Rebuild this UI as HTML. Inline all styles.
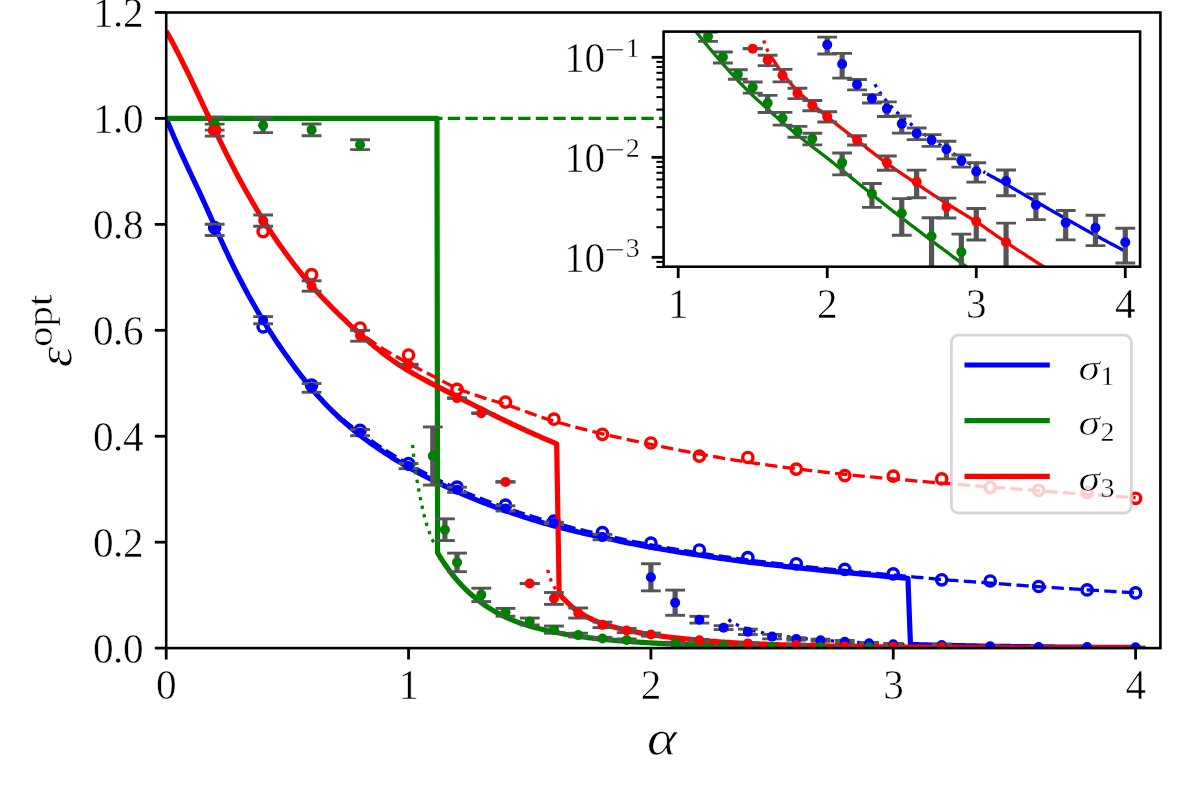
<!DOCTYPE html>
<html lang="en">
<head>
<meta charset="utf-8">
<title>Optimal generalization error</title>
<style>
html,body{margin:0;padding:0;background:#fff;}
svg{display:block;}
</style>
</head>
<body>
<svg width="1196" height="800" viewBox="0 0 1196 800">
<rect x="0" y="0" width="1196" height="800" fill="#fff"/>
<defs><clipPath id="cm"><rect x="166.2" y="12.5" width="994.20" height="635.60"/></clipPath><clipPath id="ci"><rect x="663.6" y="31.6" width="476.50" height="235.10"/></clipPath></defs>
<g clip-path="url(#cm)">
<path d="M166.20,118.40 L168.62,124.33 L171.05,130.11 L173.47,135.77 L175.89,141.31 L178.32,146.75 L180.74,152.11 L183.16,157.40 L185.59,162.63 L188.01,167.82 L190.44,172.99 L192.86,178.14 L195.28,183.30 L197.71,188.48 L200.13,193.70 L202.55,198.96 L204.98,204.29 L207.40,209.66 L209.82,215.07 L212.25,220.50 L214.67,225.93 L217.09,231.34 L219.52,236.72 L221.94,242.05 L224.36,247.32 L226.79,252.50 L229.21,257.59 L231.63,262.60 L234.06,267.53 L236.48,272.37 L238.90,277.13 L241.33,281.82 L243.75,286.42 L246.18,290.95 L248.60,295.41 L251.02,299.78 L253.45,304.09 L255.87,308.32 L258.29,312.47 L260.72,316.56 L263.14,320.57 L265.56,324.51 L267.99,328.39 L270.41,332.19 L272.83,335.93 L275.26,339.60 L277.68,343.21 L280.10,346.75 L282.53,350.23 L284.95,353.65 L287.38,357.00 L289.80,360.42 L292.22,363.79 L294.65,367.09 L297.07,370.34 L299.49,373.53 L301.92,376.66 L304.34,379.73 L306.76,382.76 L309.19,385.72 L311.61,388.64 L314.03,391.44 L316.46,394.20 L318.88,396.91 L321.30,399.57 L323.73,402.17 L326.15,404.73 L328.57,407.25 L331.00,409.71 L333.42,412.14 L335.85,414.51 L338.27,416.77 L340.69,418.98 L343.12,421.15 L345.54,423.28 L347.96,425.37 L350.39,427.43 L352.81,429.44 L355.23,431.41 L357.66,433.35 L360.08,435.26 L362.50,437.13 L364.93,438.97 L367.35,440.77 L369.77,442.54 L372.20,444.28 L374.62,445.99 L377.04,447.67 L379.47,449.33 L381.89,450.95 L384.31,452.55 L386.74,454.13 L389.16,455.67 L391.59,457.20 L394.01,458.70 L396.43,460.18 L398.86,461.64 L401.28,463.08 L403.70,464.50 L406.13,465.90 L408.55,467.28 L410.97,468.65 L413.40,470.00 L415.82,471.33 L418.24,472.65 L420.67,473.95 L423.09,475.23 L425.51,476.50 L427.94,477.76 L430.36,479.00 L432.79,480.22 L435.21,481.43 L437.63,482.62 L440.06,483.80 L442.48,484.96 L444.90,486.11 L447.33,487.25 L449.75,488.37 L452.17,489.48 L454.60,490.58 L457.02,491.66 L459.44,492.72 L461.87,493.78 L464.29,494.82 L466.71,495.85 L469.14,496.87 L471.56,497.87 L473.98,498.87 L476.41,499.85 L478.83,500.82 L481.25,501.77 L483.68,502.72 L486.10,503.65 L488.53,504.58 L490.95,505.49 L493.37,506.39 L495.80,507.28 L498.22,508.16 L500.64,509.03 L503.07,509.89 L505.49,510.74 L507.91,511.58 L510.34,512.41 L512.76,513.23 L515.18,514.05 L517.61,514.85 L520.03,515.65 L522.45,516.43 L524.88,517.21 L527.30,517.98 L529.72,518.74 L532.15,519.49 L534.57,520.24 L537.00,520.98 L539.42,521.71 L541.84,522.43 L544.27,523.15 L546.69,523.85 L549.11,524.56 L551.54,525.25 L553.96,525.94 L556.38,526.57 L558.81,527.20 L561.23,527.82 L563.65,528.43 L566.08,529.03 L568.50,529.63 L570.92,530.23 L573.35,530.82 L575.77,531.40 L578.19,531.97 L580.62,532.54 L583.04,533.11 L585.47,533.67 L587.89,534.22 L590.31,534.77 L592.74,535.31 L595.16,535.85 L597.58,536.38 L600.01,536.90 L602.43,537.42 L604.85,537.96 L607.28,538.50 L609.70,539.03 L612.12,539.55 L614.55,540.07 L616.97,540.58 L619.39,541.09 L621.82,541.60 L624.24,542.09 L626.66,542.59 L629.09,543.08 L631.51,543.56 L633.94,544.04 L636.36,544.51 L638.78,544.98 L641.21,545.44 L643.63,545.90 L646.05,546.35 L648.48,546.80 L650.90,547.24 L653.32,547.68 L655.75,548.11 L658.17,548.54 L660.59,548.97 L663.02,549.39 L665.44,549.80 L667.86,550.21 L670.29,550.62 L672.71,551.02 L675.13,551.42 L677.56,551.81 L679.98,552.20 L682.41,552.58 L684.83,552.96 L687.25,553.34 L689.68,553.71 L692.10,554.08 L694.52,554.44 L696.95,554.80 L699.37,555.15 L701.79,555.53 L704.22,555.90 L706.64,556.27 L709.06,556.64 L711.49,557.00 L713.91,557.36 L716.33,557.71 L718.76,558.06 L721.18,558.41 L723.61,558.75 L726.03,559.09 L728.45,559.43 L730.88,559.76 L733.30,560.09 L735.72,560.41 L738.15,560.74 L740.57,561.06 L742.99,561.37 L745.42,561.68 L747.84,561.99 L750.26,562.30 L752.69,562.61 L755.11,562.91 L757.53,563.21 L759.96,563.50 L762.38,563.79 L764.80,564.08 L767.23,564.37 L769.65,564.66 L772.08,564.94 L774.50,565.22 L776.92,565.50 L779.35,565.77 L781.77,566.04 L784.19,566.31 L786.62,566.58 L789.04,566.85 L791.46,567.11 L793.89,567.37 L796.31,567.63 L798.73,567.89 L801.16,568.15 L803.58,568.40 L806.00,568.65 L808.43,568.91 L810.85,569.15 L813.27,569.40 L815.70,569.65 L818.12,569.89 L820.55,570.13 L822.97,570.38 L825.39,570.62 L827.82,570.85 L830.24,571.09 L832.66,571.33 L835.09,571.56 L837.51,571.80 L839.93,572.03 L842.36,572.26 L844.78,572.49 L847.20,572.72 L849.63,572.95 L852.05,573.18 L854.47,573.41 L856.90,573.63 L859.32,573.86 L861.74,574.08 L864.17,574.31 L866.59,574.53 L869.01,574.76 L871.44,574.98 L873.86,575.21 L876.29,575.43 L878.71,575.65 L881.13,575.87 L883.56,576.10 L885.98,576.32 L888.40,576.54 L890.83,576.76 L893.25,576.99 L895.67,577.21 L898.10,577.43 L900.52,577.66 L902.94,577.88 L905.37,578.10 L907.79,578.33 L907.94,578.34 L910.46,644.48 L912.88,644.54 L915.30,644.61 L917.73,644.67 L920.15,644.73 L922.57,644.80 L925.00,644.86 L927.42,644.92 L929.84,644.98 L932.27,645.04 L934.69,645.09 L937.12,645.15 L939.54,645.21 L941.72,645.26 L941.96,645.26 L944.39,645.32 L946.81,645.37 L949.23,645.42 L951.66,645.47 L954.08,645.52 L956.50,645.57 L958.93,645.62 L961.35,645.67 L963.77,645.72 L966.20,645.77 L968.62,645.81 L971.04,645.86 L973.47,645.90 L975.89,645.95 L978.31,645.99 L980.74,646.03 L983.16,646.07 L985.59,646.11 L988.01,646.15 L990.19,646.19 L990.43,646.19 L992.86,646.23 L995.28,646.26 L997.70,646.30 L1000.13,646.33 L1002.55,646.37 L1004.97,646.40 L1007.40,646.44 L1009.82,646.47 L1012.24,646.50 L1014.67,646.53 L1017.09,646.56 L1019.51,646.59 L1021.94,646.62 L1024.36,646.65 L1026.78,646.68 L1029.21,646.71 L1031.63,646.73 L1034.06,646.76 L1036.48,646.79 L1038.66,646.81 L1038.90,646.81 L1041.33,646.84 L1043.75,646.86 L1046.17,646.88 L1048.60,646.91 L1051.02,646.93 L1053.44,646.95 L1055.87,646.98 L1058.29,647.00 L1060.71,647.02 L1063.14,647.04 L1065.56,647.06 L1067.98,647.08 L1070.41,647.10 L1072.83,647.12 L1075.25,647.14 L1077.68,647.15 L1080.10,647.17 L1082.53,647.19 L1084.95,647.21 L1087.13,647.22 L1087.37,647.22 L1089.80,647.24 L1092.22,647.25 L1094.64,647.27 L1097.07,647.29 L1099.49,647.30 L1101.91,647.32 L1104.34,647.33 L1106.76,647.34 L1109.18,647.36 L1111.61,647.37 L1114.03,647.38 L1116.45,647.40 L1118.88,647.41 L1121.30,647.42 L1123.72,647.43 L1126.15,647.45 L1128.57,647.46 L1131.00,647.47 L1133.42,647.48 L1135.60,647.49" fill="none" stroke="#0000ff" stroke-width="5.2" stroke-linejoin="round" stroke-linecap="butt"/>
<path d="M166.20,118.40 L168.62,124.33 L171.05,130.11 L173.47,135.77 L175.89,141.31 L178.32,146.75 L180.74,152.11 L183.16,157.40 L185.59,162.63 L188.01,167.82 L190.44,172.99 L192.86,178.14 L195.28,183.30 L197.71,188.48 L200.13,193.70 L202.55,198.96 L204.98,204.29 L207.40,209.66 L209.82,215.07 L212.25,220.50 L214.67,225.93 L217.09,231.34 L219.52,236.72 L221.94,242.05 L224.36,247.32 L226.79,252.50 L229.21,257.59 L231.63,262.60 L234.06,267.53 L236.48,272.37 L238.90,277.13 L241.33,281.82 L243.75,286.42 L246.18,290.95 L248.60,295.41 L251.02,299.78 L253.45,304.09 L255.87,308.32 L258.29,312.47 L260.72,316.56 L263.14,320.57 L265.56,324.51 L267.99,328.39 L270.41,332.19 L272.83,335.93 L275.26,339.60 L277.68,343.21 L280.10,346.75 L282.53,350.23 L284.95,353.65 L287.38,357.00 L289.80,360.42 L292.22,363.79 L294.65,367.09 L297.07,370.34 L299.49,373.53 L301.92,376.66 L304.34,379.73 L306.76,382.76 L309.19,385.72 L311.61,388.64 L314.03,391.32 L316.46,393.95 L318.88,396.53 L321.30,399.06 L323.73,401.54 L326.15,403.97 L328.57,406.36 L331.00,408.70 L333.42,410.99 L335.85,413.24 L338.27,415.37 L340.69,417.46 L343.12,419.50 L345.54,421.50 L347.96,423.47 L350.39,425.39 L352.81,427.28 L355.23,429.13 L357.66,430.94 L360.08,432.72 L362.50,434.46 L364.93,436.17 L367.35,437.85 L369.77,439.49 L372.20,441.10 L374.62,442.81 L377.04,444.50 L379.47,446.15 L381.89,447.77 L384.31,449.37 L386.74,450.95 L389.16,452.50 L391.59,454.02 L394.01,455.52 L396.43,457.00 L398.86,458.46 L401.28,459.90 L403.70,461.32 L406.13,462.72 L408.55,464.10 L410.97,465.47 L413.40,466.82 L415.82,468.15 L418.24,469.47 L420.67,470.77 L423.09,472.06 L425.51,473.32 L427.94,474.58 L430.36,475.82 L432.79,477.04 L435.21,478.25 L437.63,479.44 L440.06,480.62 L442.48,481.79 L444.90,482.94 L447.33,484.07 L449.75,485.19 L452.17,486.30 L454.60,487.40 L457.02,488.48 L459.44,489.55 L461.87,490.60 L464.29,491.64 L466.71,492.67 L469.14,493.69 L471.56,494.70 L473.98,495.69 L476.41,496.67 L478.83,497.64 L481.25,498.59 L483.68,499.54 L486.10,500.47 L488.53,501.40 L490.95,502.31 L493.37,503.21 L495.80,504.10 L498.22,504.98 L500.64,505.85 L503.07,506.71 L505.49,507.56 L507.91,508.40 L510.34,509.23 L512.76,510.06 L515.18,510.87 L517.61,511.67 L520.03,512.47 L522.45,513.25 L524.88,514.03 L527.30,514.80 L529.72,515.56 L532.15,516.31 L534.57,517.06 L537.00,517.80 L539.42,518.53 L541.84,519.25 L544.27,519.97 L546.69,520.68 L549.11,521.38 L551.54,522.07 L553.96,522.76 L556.38,523.41 L558.81,524.06 L561.23,524.70 L563.65,525.33 L566.08,525.95 L568.50,526.57 L570.92,527.19 L573.35,527.80 L575.77,528.40 L578.19,528.99 L580.62,529.58 L583.04,530.17 L585.47,530.75 L587.89,531.32 L590.31,531.89 L592.74,532.45 L595.16,533.01 L597.58,533.56 L600.01,534.10 L602.43,534.64 L604.85,535.20 L607.28,535.76 L609.70,536.31 L612.12,536.85 L614.55,537.39 L616.97,537.92 L619.39,538.45 L621.82,538.97 L624.24,539.49 L626.66,540.01 L629.09,540.51 L631.51,541.02 L633.94,541.51 L636.36,542.01 L638.78,542.49 L641.21,542.98 L643.63,543.45 L646.05,543.93 L648.48,544.39 L650.90,544.86 L653.32,545.30 L655.75,545.74 L658.17,546.18 L660.59,546.61 L663.02,547.04 L665.44,547.46 L667.86,547.87 L670.29,548.29 L672.71,548.70 L675.13,549.10 L677.56,549.50 L679.98,549.89 L682.41,550.28 L684.83,550.67 L687.25,551.05 L689.68,551.43 L692.10,551.80 L694.52,552.17 L696.95,552.54 L699.37,552.90 L701.79,553.28 L704.22,553.66 L706.64,554.04 L709.06,554.41 L711.49,554.78 L713.91,555.14 L716.33,555.51 L718.76,555.86 L721.18,556.22 L723.61,556.56 L726.03,556.91 L728.45,557.25 L730.88,557.59 L733.30,557.93 L735.72,558.26 L738.15,558.59 L740.57,558.92 L742.99,559.24 L745.42,559.56 L747.84,559.88 L750.26,560.19 L752.69,560.49 L755.11,560.80 L757.53,561.10 L759.96,561.40 L762.38,561.69 L764.80,561.98 L767.23,562.27 L769.65,562.56 L772.08,562.85 L774.50,563.13 L776.92,563.41 L779.35,563.69 L781.77,563.96 L784.19,564.23 L786.62,564.51 L789.04,564.77 L791.46,565.04 L793.89,565.31 L796.31,565.57 L798.73,565.83 L801.16,566.09 L803.58,566.34 L806.00,566.60 L808.43,566.85 L810.85,567.10 L813.27,567.35 L815.70,567.60 L818.12,567.85 L820.55,568.10 L822.97,568.34 L825.39,568.58 L827.82,568.82 L830.24,569.06 L832.66,569.30 L835.09,569.54 L837.51,569.78 L839.93,570.01 L842.36,570.25 L844.78,570.48 L847.20,570.71 L849.63,570.94 L852.05,571.17 L854.47,571.40 L856.90,571.63 L859.32,571.86 L861.74,572.09 L864.17,572.32 L866.59,572.54 L869.01,572.77 L871.44,573.00 L873.86,573.22 L876.29,573.45 L878.71,573.68 L881.13,573.90 L883.56,574.13 L885.98,574.35 L888.40,574.58 L890.83,574.80 L893.25,575.03 L895.67,575.25 L898.10,575.47 L900.52,575.70 L902.94,575.92 L905.37,576.14 L907.79,576.37 L907.94,576.38 L910.36,576.59 L912.78,576.81 L915.21,577.04 L917.63,577.27 L920.05,577.50 L922.48,577.73 L924.90,577.97 L927.32,578.20 L929.75,578.43 L932.17,578.66 L934.59,578.88 L937.02,579.10 L939.44,579.31 L941.72,579.50 L941.87,579.52 L944.29,579.71 L946.71,579.91 L949.14,580.09 L951.56,580.28 L953.98,580.46 L956.41,580.64 L958.83,580.82 L961.25,580.99 L963.68,581.17 L966.10,581.34 L968.52,581.51 L970.95,581.68 L973.37,581.85 L975.79,582.02 L978.22,582.19 L980.64,582.36 L983.06,582.54 L985.49,582.71 L987.91,582.89 L990.19,583.05 L990.34,583.06 L992.76,583.24 L995.18,583.42 L997.61,583.61 L1000.03,583.79 L1002.45,583.97 L1004.88,584.15 L1007.30,584.34 L1009.72,584.52 L1012.15,584.71 L1014.57,584.89 L1016.99,585.07 L1019.42,585.25 L1021.84,585.44 L1024.26,585.62 L1026.69,585.80 L1029.11,585.97 L1031.53,586.15 L1033.96,586.32 L1036.38,586.50 L1038.66,586.65 L1038.81,586.66 L1041.23,586.83 L1043.65,587.00 L1046.08,587.16 L1048.50,587.33 L1050.92,587.49 L1053.35,587.65 L1055.77,587.81 L1058.19,587.97 L1060.62,588.13 L1063.04,588.29 L1065.46,588.45 L1067.89,588.60 L1070.31,588.76 L1072.73,588.91 L1075.16,589.07 L1077.58,589.22 L1080.00,589.38 L1082.43,589.53 L1084.85,589.69 L1087.13,589.83 L1087.28,589.84 L1089.70,590.00 L1092.12,590.15 L1094.55,590.31 L1096.97,590.46 L1099.39,590.61 L1101.82,590.76 L1104.24,590.92 L1106.66,591.07 L1109.09,591.22 L1111.51,591.37 L1113.93,591.52 L1116.36,591.67 L1118.78,591.82 L1121.20,591.97 L1123.63,592.12 L1126.05,592.27 L1128.47,592.42 L1130.90,592.57 L1133.32,592.71 L1135.60,592.85" fill="none" stroke="#0000ff" stroke-width="3.3" stroke-linejoin="round" stroke-linecap="butt" stroke-dasharray="12.3 5.3"/>
<circle cx="214.67" cy="227.60" r="5.15" fill="none" stroke="#0000ff" stroke-width="3.4"/><circle cx="263.14" cy="326.80" r="5.15" fill="none" stroke="#0000ff" stroke-width="3.4"/><circle cx="311.61" cy="385.20" r="5.15" fill="none" stroke="#0000ff" stroke-width="3.4"/><circle cx="360.08" cy="430.30" r="5.15" fill="none" stroke="#0000ff" stroke-width="3.4"/><circle cx="408.55" cy="463.70" r="5.15" fill="none" stroke="#0000ff" stroke-width="3.4"/><circle cx="457.02" cy="487.10" r="5.15" fill="none" stroke="#0000ff" stroke-width="3.4"/><circle cx="505.49" cy="505.20" r="5.15" fill="none" stroke="#0000ff" stroke-width="3.4"/><circle cx="553.96" cy="521.10" r="5.15" fill="none" stroke="#0000ff" stroke-width="3.4"/><circle cx="602.43" cy="532.60" r="5.15" fill="none" stroke="#0000ff" stroke-width="3.4"/><circle cx="650.90" cy="543.10" r="5.15" fill="none" stroke="#0000ff" stroke-width="3.4"/><circle cx="699.37" cy="550.00" r="5.15" fill="none" stroke="#0000ff" stroke-width="3.4"/><circle cx="747.84" cy="557.60" r="5.15" fill="none" stroke="#0000ff" stroke-width="3.4"/><circle cx="796.31" cy="563.80" r="5.15" fill="none" stroke="#0000ff" stroke-width="3.4"/><circle cx="844.78" cy="569.40" r="5.15" fill="none" stroke="#0000ff" stroke-width="3.4"/><circle cx="893.25" cy="573.90" r="5.15" fill="none" stroke="#0000ff" stroke-width="3.4"/><circle cx="941.72" cy="579.80" r="5.15" fill="none" stroke="#0000ff" stroke-width="3.4"/><circle cx="990.19" cy="581.00" r="5.15" fill="none" stroke="#0000ff" stroke-width="3.4"/><circle cx="1038.66" cy="586.50" r="5.15" fill="none" stroke="#0000ff" stroke-width="3.4"/><circle cx="1087.13" cy="589.90" r="5.15" fill="none" stroke="#0000ff" stroke-width="3.4"/><circle cx="1135.60" cy="592.90" r="5.15" fill="none" stroke="#0000ff" stroke-width="3.4"/>
<path d="M728.45,619.65 L730.88,621.38 L733.30,622.90 L735.72,624.22 L735.72,624.22 L738.15,625.37 L740.57,626.40 L742.99,627.32 L743.87,627.63 L745.42,628.17 L747.84,628.97 L750.26,629.72 L752.69,630.42 L755.11,631.07 L757.53,631.68 L759.96,632.25 L762.38,632.79 L763.71,633.07 L764.80,633.29 L767.23,633.75 L769.65,634.19 L772.07,634.61 L774.50,635.00 L776.92,635.37 L779.35,635.72 L781.77,636.06 L784.19,636.38 L785.99,636.62 L786.62,636.70 L789.04,637.00 L791.46,637.29 L793.89,637.57 L796.31,637.84 L798.73,638.10 L801.16,638.35 L803.58,638.59 L806.00,638.82 L808.43,639.04 L810.85,639.26 L813.27,639.47 L815.70,639.68 L818.12,639.88 L820.54,640.07 L822.97,640.26 L825.39,640.44 L827.82,640.61 L830.24,640.79 L832.18,640.92 L832.66,640.95 L835.09,641.12 L837.51,641.27 L839.93,641.43 L842.36,641.57 L844.78,641.72 L847.20,641.85 L849.63,641.99 L852.05,642.12 L854.47,642.25 L856.66,642.36 L856.90,642.37 L859.32,642.49 L861.74,642.61 L864.17,642.73 L866.59,642.84 L869.01,642.95 L871.44,643.06 L873.86,643.16 L876.29,643.26 L878.71,643.36 L881.13,643.46 L883.56,643.56 L885.98,643.65 L888.40,643.74 L890.83,643.83 L893.25,643.91 L895.67,644.00 L898.10,644.08 L900.52,644.16 L902.94,644.24 L905.37,644.31 L907.79,644.39 L907.94,644.39" fill="none" stroke="#0000ff" stroke-width="3.3" stroke-linejoin="round" stroke-linecap="butt" stroke-dasharray="3.3 5.5"/>
<path d="M214.67,224.27 V235.53" stroke="#555555" stroke-width="5.2" fill="none"/><path d="M204.77,224.27 h19.8" stroke="#555555" stroke-width="2.9" fill="none"/><path d="M204.77,235.53 h19.8" stroke="#555555" stroke-width="2.9" fill="none"/><path d="M263.14,316.60 V323.80" stroke="#555555" stroke-width="5.2" fill="none"/><path d="M253.24,316.60 h19.8" stroke="#555555" stroke-width="2.9" fill="none"/><path d="M253.24,323.80 h19.8" stroke="#555555" stroke-width="2.9" fill="none"/><path d="M311.61,383.55 V392.25" stroke="#555555" stroke-width="5.2" fill="none"/><path d="M301.71,383.55 h19.8" stroke="#555555" stroke-width="2.9" fill="none"/><path d="M301.71,392.25 h19.8" stroke="#555555" stroke-width="2.9" fill="none"/><path d="M360.08,429.50 V435.70" stroke="#555555" stroke-width="5.2" fill="none"/><path d="M350.18,429.50 h19.8" stroke="#555555" stroke-width="2.9" fill="none"/><path d="M350.18,435.70 h19.8" stroke="#555555" stroke-width="2.9" fill="none"/><path d="M408.55,463.55 V468.65" stroke="#555555" stroke-width="5.2" fill="none"/><path d="M398.65,463.55 h19.8" stroke="#555555" stroke-width="2.9" fill="none"/><path d="M398.65,468.65 h19.8" stroke="#555555" stroke-width="2.9" fill="none"/><path d="M457.02,487.20 V492.40" stroke="#555555" stroke-width="5.2" fill="none"/><path d="M447.12,487.20 h19.8" stroke="#555555" stroke-width="2.9" fill="none"/><path d="M447.12,492.40 h19.8" stroke="#555555" stroke-width="2.9" fill="none"/><path d="M505.49,505.80 V511.00" stroke="#555555" stroke-width="5.2" fill="none"/><path d="M495.59,505.80 h19.8" stroke="#555555" stroke-width="2.9" fill="none"/><path d="M495.59,511.00 h19.8" stroke="#555555" stroke-width="2.9" fill="none"/><path d="M553.96,522.20 V523.60" stroke="#555555" stroke-width="5.2" fill="none"/><path d="M544.06,522.20 h19.8" stroke="#555555" stroke-width="2.9" fill="none"/><path d="M544.06,523.60 h19.8" stroke="#555555" stroke-width="2.9" fill="none"/><path d="M602.43,534.40 V539.80" stroke="#555555" stroke-width="5.2" fill="none"/><path d="M592.53,534.40 h19.8" stroke="#555555" stroke-width="2.9" fill="none"/><path d="M592.53,539.80 h19.8" stroke="#555555" stroke-width="2.9" fill="none"/><path d="M650.90,563.74 V590.86" stroke="#555555" stroke-width="5.2" fill="none"/><path d="M641.00,563.74 h19.8" stroke="#555555" stroke-width="2.9" fill="none"/><path d="M641.00,590.86 h19.8" stroke="#555555" stroke-width="2.9" fill="none"/><path d="M675.13,590.10 V615.31" stroke="#555555" stroke-width="5.2" fill="none"/><path d="M665.24,590.10 h19.8" stroke="#555555" stroke-width="2.9" fill="none"/><path d="M665.24,615.31 h19.8" stroke="#555555" stroke-width="2.9" fill="none"/><path d="M699.37,616.36 V623.07" stroke="#555555" stroke-width="5.2" fill="none"/><path d="M689.47,616.36 h19.8" stroke="#555555" stroke-width="2.9" fill="none"/><path d="M689.47,623.07 h19.8" stroke="#555555" stroke-width="2.9" fill="none"/><path d="M723.61,625.67 V629.60" stroke="#555555" stroke-width="5.2" fill="none"/><path d="M713.71,625.67 h19.8" stroke="#555555" stroke-width="2.9" fill="none"/><path d="M713.71,629.60 h19.8" stroke="#555555" stroke-width="2.9" fill="none"/><path d="M747.84,629.14 V634.55" stroke="#555555" stroke-width="5.2" fill="none"/><path d="M737.94,629.14 h19.8" stroke="#555555" stroke-width="2.9" fill="none"/><path d="M737.94,634.55 h19.8" stroke="#555555" stroke-width="2.9" fill="none"/><path d="M772.08,634.37 V638.86" stroke="#555555" stroke-width="5.2" fill="none"/><path d="M762.18,634.37 h19.8" stroke="#555555" stroke-width="2.9" fill="none"/><path d="M762.18,638.86 h19.8" stroke="#555555" stroke-width="2.9" fill="none"/><path d="M796.31,637.68 V640.15" stroke="#555555" stroke-width="5.2" fill="none"/><path d="M786.41,637.68 h19.8" stroke="#555555" stroke-width="2.9" fill="none"/><path d="M786.41,640.15 h19.8" stroke="#555555" stroke-width="2.9" fill="none"/><path d="M820.55,639.17 V641.29" stroke="#555555" stroke-width="5.2" fill="none"/><path d="M810.65,639.17 h19.8" stroke="#555555" stroke-width="2.9" fill="none"/><path d="M810.65,641.29 h19.8" stroke="#555555" stroke-width="2.9" fill="none"/><path d="M844.78,640.44 V643.00" stroke="#555555" stroke-width="5.2" fill="none"/><path d="M834.88,640.44 h19.8" stroke="#555555" stroke-width="2.9" fill="none"/><path d="M834.88,643.00 h19.8" stroke="#555555" stroke-width="2.9" fill="none"/><path d="M869.01,642.51 V643.87" stroke="#555555" stroke-width="5.2" fill="none"/><path d="M859.11,642.51 h19.8" stroke="#555555" stroke-width="2.9" fill="none"/><path d="M859.11,643.87 h19.8" stroke="#555555" stroke-width="2.9" fill="none"/><path d="M893.25,643.43 V645.11" stroke="#555555" stroke-width="5.2" fill="none"/><path d="M883.35,643.43 h19.8" stroke="#555555" stroke-width="2.9" fill="none"/><path d="M883.35,645.11 h19.8" stroke="#555555" stroke-width="2.9" fill="none"/><path d="M941.72,644.14 V645.92" stroke="#555555" stroke-width="5.2" fill="none"/><path d="M931.82,644.14 h19.8" stroke="#555555" stroke-width="2.9" fill="none"/><path d="M931.82,645.92 h19.8" stroke="#555555" stroke-width="2.9" fill="none"/><path d="M990.19,645.82 V646.84" stroke="#555555" stroke-width="5.2" fill="none"/><path d="M980.29,645.82 h19.8" stroke="#555555" stroke-width="2.9" fill="none"/><path d="M980.29,646.84 h19.8" stroke="#555555" stroke-width="2.9" fill="none"/><path d="M1038.66,646.55 V647.31" stroke="#555555" stroke-width="5.2" fill="none"/><path d="M1028.76,646.55 h19.8" stroke="#555555" stroke-width="2.9" fill="none"/><path d="M1028.76,647.31 h19.8" stroke="#555555" stroke-width="2.9" fill="none"/><path d="M1087.13,646.70 V647.41" stroke="#555555" stroke-width="5.2" fill="none"/><path d="M1077.23,646.70 h19.8" stroke="#555555" stroke-width="2.9" fill="none"/><path d="M1077.23,647.41 h19.8" stroke="#555555" stroke-width="2.9" fill="none"/><path d="M1135.60,647.07 V647.64" stroke="#555555" stroke-width="5.2" fill="none"/><path d="M1125.70,647.07 h19.8" stroke="#555555" stroke-width="2.9" fill="none"/><path d="M1125.70,647.64 h19.8" stroke="#555555" stroke-width="2.9" fill="none"/>
<path d="M166.20,118.40 L437.00,118.40 L437.58,552.81 L440.01,556.83 L442.43,560.66 L444.85,564.30 L447.28,567.78 L449.70,571.09 L452.12,574.25 L454.55,577.25 L456.97,580.12 L457.02,580.17 L459.40,582.85 L461.82,585.46 L464.24,587.95 L466.67,590.33 L469.09,592.60 L471.51,594.77 L473.94,596.85 L476.36,598.84 L478.78,600.74 L481.21,602.56 L481.25,602.60 L483.63,604.31 L486.05,605.99 L488.48,607.60 L490.90,609.14 L493.32,610.62 L495.75,612.03 L498.17,613.37 L500.59,614.65 L503.02,615.87 L505.44,617.03 L505.49,617.05 L507.87,618.13 L510.29,619.19 L512.71,620.19 L515.14,621.15 L517.56,622.07 L519.98,622.95 L522.41,623.80 L524.83,624.60 L527.25,625.37 L529.68,626.11 L529.72,626.12 L532.10,626.81 L534.52,627.47 L536.95,628.11 L539.37,628.72 L541.79,629.31 L544.22,629.88 L546.64,630.43 L549.06,630.96 L551.49,631.48 L553.91,631.98 L553.96,631.99 L556.34,632.48 L558.76,632.96 L561.18,633.43 L563.61,633.88 L566.03,634.32 L568.45,634.75 L570.88,635.16 L573.30,635.55 L575.72,635.93 L578.15,636.29 L578.19,636.30 L580.57,636.64 L582.99,636.97 L585.42,637.29 L587.84,637.60 L590.26,637.90 L592.69,638.18 L595.11,638.46 L597.53,638.73 L599.96,638.99 L602.38,639.24 L602.43,639.25 L604.81,639.49 L607.23,639.72 L609.65,639.95 L612.08,640.17 L614.50,640.38 L616.92,640.59 L619.35,640.79 L621.77,640.98 L624.19,641.17 L626.62,641.35 L626.66,641.35 L629.04,641.53 L631.46,641.70 L633.89,641.86 L636.31,642.02 L638.73,642.17 L641.16,642.32 L643.58,642.47 L646.00,642.61 L648.43,642.76 L650.85,642.90 L650.90,642.90 L653.28,643.04 L655.70,643.17 L658.12,643.30 L660.55,643.43 L662.97,643.56 L665.39,643.68 L667.82,643.81 L670.24,643.92 L672.66,644.04 L675.09,644.15 L677.51,644.26 L679.93,644.37 L682.36,644.47 L684.78,644.57 L687.20,644.67 L689.63,644.77 L692.05,644.86 L694.47,644.95 L696.90,645.04 L699.32,645.12 L699.37,645.12 L701.75,645.20 L704.17,645.28 L706.59,645.36 L709.02,645.43 L711.44,645.51 L713.86,645.58 L716.29,645.65 L718.71,645.71 L721.13,645.78 L723.56,645.84 L725.98,645.90 L728.40,645.96 L730.83,646.02 L733.25,646.08 L735.67,646.13 L738.10,646.19 L740.52,646.24 L742.94,646.29 L745.37,646.34 L747.79,646.38 L747.84,646.39 L750.22,646.43 L752.64,646.48 L755.06,646.52 L757.49,646.56 L759.91,646.60 L762.33,646.64 L764.76,646.68 L767.18,646.72 L769.60,646.75 L772.03,646.79 L774.45,646.82 L776.87,646.85 L779.30,646.89 L781.72,646.92 L784.14,646.95 L786.57,646.98 L788.99,647.01 L791.41,647.04 L793.84,647.06 L796.26,647.09 L796.31,647.09 L798.69,647.12 L801.11,647.14 L803.53,647.17 L805.96,647.19 L808.38,647.21 L810.80,647.24 L813.23,647.26 L815.65,647.28 L818.07,647.30 L820.50,647.32 L822.92,647.34 L825.34,647.36 L827.77,647.38 L830.19,647.40 L832.61,647.42 L835.04,647.43 L837.46,647.45 L839.88,647.47 L842.31,647.48 L844.73,647.50 L844.78,647.50 L847.16,647.51 L849.58,647.53 L852.00,647.54 L854.43,647.56 L856.85,647.57 L859.27,647.58 L861.70,647.60 L864.12,647.61 L866.54,647.62 L868.97,647.63 L869.01,647.63 L871.39,647.65 L873.81,647.66 L876.24,647.67 L878.66,647.68 L881.08,647.69 L883.51,647.70 L885.93,647.71 L888.35,647.72 L890.78,647.73 L893.20,647.74 L895.63,647.75 L898.05,647.76 L900.47,647.77 L902.90,647.77 L905.32,647.78 L907.74,647.79 L910.17,647.80 L912.59,647.81 L915.01,647.81 L917.44,647.82 L919.86,647.83 L922.28,647.84 L924.71,647.84 L927.13,647.85 L929.55,647.85 L931.98,647.86 L934.40,647.87 L936.82,647.87 L939.25,647.88 L941.67,647.88 L944.10,647.89 L946.52,647.90 L948.94,647.90 L951.37,647.91 L953.79,647.91 L956.21,647.92 L958.64,647.92 L961.06,647.92 L963.48,647.93 L965.91,647.93 L968.33,647.94 L970.75,647.94 L973.18,647.95 L975.60,647.95 L978.02,647.95 L980.45,647.96 L982.87,647.96 L985.29,647.96 L987.72,647.97 L990.14,647.97 L992.57,647.97 L994.99,647.98 L997.41,647.98 L999.84,647.98 L1002.26,647.99 L1004.68,647.99 L1007.11,647.99 L1009.53,648.00 L1011.95,648.00 L1014.38,648.00 L1016.80,648.00 L1019.22,648.01 L1021.65,648.01 L1024.07,648.01 L1026.49,648.01 L1028.92,648.01 L1031.34,648.02 L1033.76,648.02 L1036.19,648.02 L1038.61,648.02 L1041.04,648.03 L1043.46,648.03 L1045.88,648.03 L1048.31,648.03 L1050.73,648.03 L1053.15,648.03 L1055.58,648.04 L1058.00,648.04 L1060.42,648.04 L1062.85,648.04 L1065.27,648.04 L1067.69,648.04 L1070.12,648.05 L1072.54,648.05 L1074.96,648.05 L1077.39,648.05 L1079.81,648.05 L1082.23,648.05 L1084.66,648.05 L1087.08,648.05 L1089.51,648.06 L1091.93,648.06 L1094.35,648.06 L1096.78,648.06 L1099.20,648.06 L1101.62,648.06 L1104.05,648.06 L1106.47,648.06 L1108.89,648.06 L1111.32,648.06 L1113.74,648.07 L1116.16,648.07 L1118.59,648.07 L1121.01,648.07 L1123.43,648.07 L1125.86,648.07 L1128.28,648.07 L1130.70,648.07 L1133.13,648.07 L1135.55,648.07 L1135.60,648.07" fill="none" stroke="#008000" stroke-width="5.2" stroke-linejoin="round" stroke-linecap="butt"/>
<path d="M166.20,118.40 L1135.60,118.40" fill="none" stroke="#008000" stroke-width="3.3" stroke-linejoin="round" stroke-linecap="butt" stroke-dasharray="12.3 5.3"/>
<path d="M412.60,444.80 L412.75,446.60 L412.91,448.40 L413.08,450.20 L413.25,452.00 L413.43,453.80 L413.61,455.60 L413.79,457.40 L413.98,459.20 L414.17,461.00 L414.37,462.80 L414.57,464.60 L414.78,466.40 L415.00,468.20 L415.24,470.00 L415.49,471.80 L415.76,473.60 L416.06,475.40 L416.39,477.20 L416.73,479.00 L417.07,480.80 L417.41,482.60 L417.75,484.40 L418.07,486.20 L418.40,488.00 L418.73,489.80 L419.06,491.60 L419.40,493.40 L419.75,495.20 L420.10,497.00 L420.46,498.80 L420.83,500.60 L421.21,502.40 L421.60,504.20 L421.99,506.00 L422.40,507.80 L422.81,509.60 L423.22,511.40 L423.64,513.20 L424.07,515.00 L424.52,516.80 L424.98,518.60 L425.47,520.40 L425.99,522.20 L426.53,524.00 L427.11,525.80 L427.70,527.60 L428.32,529.40 L428.96,531.20 L429.63,533.00 L430.33,534.80 L431.07,536.60 L431.84,538.40 L432.65,540.20 L433.53,542.00 L434.47,543.80 L435.41,545.60 L436.28,547.40 L437.11,549.20 L437.90,551.00" fill="none" stroke="#008000" stroke-width="3.3" stroke-linejoin="round" stroke-linecap="butt" stroke-dasharray="3.3 5.5"/>
<path d="M214.67,117.30 V130.10" stroke="#555555" stroke-width="5.2" fill="none"/><path d="M204.77,117.30 h19.8" stroke="#555555" stroke-width="2.9" fill="none"/><path d="M204.77,130.10 h19.8" stroke="#555555" stroke-width="2.9" fill="none"/><path d="M263.14,117.80 V132.60" stroke="#555555" stroke-width="5.2" fill="none"/><path d="M253.24,117.80 h19.8" stroke="#555555" stroke-width="2.9" fill="none"/><path d="M253.24,132.60 h19.8" stroke="#555555" stroke-width="2.9" fill="none"/><path d="M311.61,124.05 V135.75" stroke="#555555" stroke-width="5.2" fill="none"/><path d="M301.71,124.05 h19.8" stroke="#555555" stroke-width="2.9" fill="none"/><path d="M301.71,135.75 h19.8" stroke="#555555" stroke-width="2.9" fill="none"/><path d="M360.08,139.75 V149.65" stroke="#555555" stroke-width="5.2" fill="none"/><path d="M350.18,139.75 h19.8" stroke="#555555" stroke-width="2.9" fill="none"/><path d="M350.18,149.65 h19.8" stroke="#555555" stroke-width="2.9" fill="none"/><path d="M432.79,426.95 V485.05" stroke="#555555" stroke-width="5.2" fill="none"/><path d="M422.89,426.95 h19.8" stroke="#555555" stroke-width="2.9" fill="none"/><path d="M422.89,485.05 h19.8" stroke="#555555" stroke-width="2.9" fill="none"/><path d="M444.90,518.85 V540.55" stroke="#555555" stroke-width="5.2" fill="none"/><path d="M435.00,518.85 h19.8" stroke="#555555" stroke-width="2.9" fill="none"/><path d="M435.00,540.55 h19.8" stroke="#555555" stroke-width="2.9" fill="none"/><path d="M457.02,553.12 V571.66" stroke="#555555" stroke-width="5.2" fill="none"/><path d="M447.12,553.12 h19.8" stroke="#555555" stroke-width="2.9" fill="none"/><path d="M447.12,571.66 h19.8" stroke="#555555" stroke-width="2.9" fill="none"/><path d="M481.25,588.21 V601.57" stroke="#555555" stroke-width="5.2" fill="none"/><path d="M471.36,588.21 h19.8" stroke="#555555" stroke-width="2.9" fill="none"/><path d="M471.36,601.57 h19.8" stroke="#555555" stroke-width="2.9" fill="none"/><path d="M505.49,608.39 V616.19" stroke="#555555" stroke-width="5.2" fill="none"/><path d="M495.59,608.39 h19.8" stroke="#555555" stroke-width="2.9" fill="none"/><path d="M495.59,616.19 h19.8" stroke="#555555" stroke-width="2.9" fill="none"/><path d="M529.72,618.07 V624.91" stroke="#555555" stroke-width="5.2" fill="none"/><path d="M519.82,618.07 h19.8" stroke="#555555" stroke-width="2.9" fill="none"/><path d="M519.82,624.91 h19.8" stroke="#555555" stroke-width="2.9" fill="none"/><path d="M553.96,626.05 V633.25" stroke="#555555" stroke-width="5.2" fill="none"/><path d="M544.06,626.05 h19.8" stroke="#555555" stroke-width="2.9" fill="none"/><path d="M544.06,633.25 h19.8" stroke="#555555" stroke-width="2.9" fill="none"/><path d="M578.19,633.20 V636.99" stroke="#555555" stroke-width="5.2" fill="none"/><path d="M568.29,633.20 h19.8" stroke="#555555" stroke-width="2.9" fill="none"/><path d="M568.29,636.99 h19.8" stroke="#555555" stroke-width="2.9" fill="none"/><path d="M602.43,637.31 V639.70" stroke="#555555" stroke-width="5.2" fill="none"/><path d="M592.53,637.31 h19.8" stroke="#555555" stroke-width="2.9" fill="none"/><path d="M592.53,639.70 h19.8" stroke="#555555" stroke-width="2.9" fill="none"/><path d="M626.66,638.89 V641.06" stroke="#555555" stroke-width="5.2" fill="none"/><path d="M616.76,638.89 h19.8" stroke="#555555" stroke-width="2.9" fill="none"/><path d="M616.76,641.06 h19.8" stroke="#555555" stroke-width="2.9" fill="none"/><path d="M675.13,642.26 V644.57" stroke="#555555" stroke-width="5.2" fill="none"/><path d="M665.24,642.26 h19.8" stroke="#555555" stroke-width="2.9" fill="none"/><path d="M665.24,644.57 h19.8" stroke="#555555" stroke-width="2.9" fill="none"/><path d="M723.61,645.20 V646.43" stroke="#555555" stroke-width="5.2" fill="none"/><path d="M713.71,645.20 h19.8" stroke="#555555" stroke-width="2.9" fill="none"/><path d="M713.71,646.43 h19.8" stroke="#555555" stroke-width="2.9" fill="none"/><path d="M772.08,646.05 V647.22" stroke="#555555" stroke-width="5.2" fill="none"/><path d="M762.18,646.05 h19.8" stroke="#555555" stroke-width="2.9" fill="none"/><path d="M762.18,647.22 h19.8" stroke="#555555" stroke-width="2.9" fill="none"/><path d="M820.55,646.78 V647.69" stroke="#555555" stroke-width="5.2" fill="none"/><path d="M810.65,646.78 h19.8" stroke="#555555" stroke-width="2.9" fill="none"/><path d="M810.65,647.69 h19.8" stroke="#555555" stroke-width="2.9" fill="none"/><path d="M869.01,647.20 V647.81" stroke="#555555" stroke-width="5.2" fill="none"/><path d="M859.11,647.20 h19.8" stroke="#555555" stroke-width="2.9" fill="none"/><path d="M859.11,647.81 h19.8" stroke="#555555" stroke-width="2.9" fill="none"/>
<path d="M166.20,31.00 L168.62,35.34 L171.05,39.78 L173.47,44.32 L175.89,48.95 L178.32,53.66 L180.74,58.45 L183.16,63.31 L185.59,68.23 L188.01,73.21 L190.44,78.23 L192.86,83.30 L195.28,88.40 L197.71,93.52 L200.13,98.67 L202.55,103.82 L204.98,108.99 L207.40,114.15 L209.82,119.30 L212.25,124.44 L214.67,129.56 L217.09,134.64 L219.52,139.69 L221.94,144.70 L224.36,149.66 L226.79,154.56 L229.21,159.39 L231.63,164.15 L234.06,168.85 L236.48,173.47 L238.90,178.02 L241.33,182.51 L243.75,186.93 L246.18,191.27 L248.60,195.56 L251.02,199.77 L253.45,203.92 L255.87,208.01 L258.29,212.03 L260.72,215.99 L263.14,219.88 L265.56,223.71 L267.99,227.48 L270.41,231.19 L272.83,234.84 L275.26,238.43 L277.68,241.97 L280.10,245.44 L282.53,248.86 L284.95,252.22 L287.38,255.52 L289.80,258.77 L292.22,261.97 L294.65,265.11 L297.07,268.21 L299.49,271.25 L301.92,274.24 L304.34,277.18 L306.76,280.07 L309.19,282.91 L311.61,285.70 L314.03,288.45 L316.46,291.16 L318.88,293.82 L321.30,296.43 L323.73,299.01 L326.15,301.56 L328.57,304.06 L331.00,306.53 L333.42,308.97 L335.85,311.38 L338.27,313.76 L340.69,316.11 L343.12,318.44 L345.54,320.74 L347.96,323.02 L350.39,325.29 L352.81,327.53 L355.23,329.75 L357.66,331.95 L360.08,334.13 L362.50,336.28 L364.93,338.40 L367.35,340.50 L369.77,342.57 L372.20,344.62 L374.62,346.63 L377.04,348.61 L379.47,350.55 L381.89,352.46 L384.31,354.34 L386.74,356.18 L389.16,357.98 L391.59,359.74 L394.01,361.46 L396.43,363.14 L398.86,364.77 L401.28,366.36 L403.70,367.91 L406.13,369.42 L408.55,370.89 L410.97,372.32 L413.40,373.73 L415.82,375.10 L418.24,376.45 L420.67,377.77 L423.09,379.08 L425.51,380.37 L427.94,381.64 L430.36,382.91 L432.79,384.16 L435.21,385.41 L437.63,386.66 L440.06,387.90 L442.48,389.15 L444.90,390.40 L447.33,391.64 L449.75,392.89 L452.17,394.13 L454.60,395.38 L457.02,396.62 L459.44,397.86 L461.87,399.10 L464.29,400.33 L466.71,401.57 L469.14,402.80 L471.56,404.02 L473.98,405.25 L476.41,406.47 L478.83,407.69 L481.25,408.91 L483.68,410.12 L486.10,411.33 L488.53,412.53 L490.95,413.73 L493.37,414.92 L495.80,416.11 L498.22,417.30 L500.64,418.48 L503.07,419.65 L505.49,420.82 L507.91,421.98 L510.34,423.14 L512.76,424.29 L515.18,425.43 L517.61,426.57 L520.03,427.70 L522.45,428.82 L524.88,429.93 L527.30,431.04 L529.72,432.14 L532.15,433.23 L534.57,434.32 L537.00,435.39 L539.42,436.46 L541.84,437.52 L544.27,438.57 L546.69,439.61 L549.11,440.64 L551.54,441.66 L553.96,442.67 L556.38,443.67 L556.67,443.79 L559.17,593.52 L561.59,596.43 L564.02,599.14 L566.44,601.66 L568.86,603.99 L571.29,606.15 L573.71,608.15 L576.14,610.00 L578.19,611.45 L578.56,611.70 L580.98,613.29 L583.41,614.77 L585.83,616.16 L588.25,617.47 L590.68,618.69 L593.10,619.84 L595.52,620.91 L597.95,621.92 L600.37,622.86 L602.43,623.61 L602.79,623.74 L605.22,624.56 L607.64,625.32 L610.06,626.04 L612.49,626.72 L614.91,627.36 L617.33,627.98 L619.76,628.57 L622.18,629.14 L624.61,629.69 L626.66,630.15 L627.03,630.23 L629.45,630.75 L631.88,631.26 L634.30,631.74 L636.72,632.21 L639.15,632.66 L641.57,633.10 L643.99,633.52 L646.42,633.92 L648.84,634.32 L650.90,634.64 L651.26,634.70 L653.69,635.07 L656.11,635.42 L658.53,635.77 L660.96,636.10 L663.38,636.43 L665.80,636.74 L668.23,637.04 L670.65,637.34 L673.08,637.63 L675.50,637.90 L677.92,638.17 L680.35,638.44 L682.77,638.69 L685.19,638.94 L687.62,639.18 L690.04,639.42 L692.46,639.65 L694.89,639.87 L697.31,640.08 L699.37,640.27 L699.73,640.30 L702.16,640.50 L704.58,640.70 L707.00,640.90 L709.43,641.09 L711.85,641.28 L714.27,641.46 L716.70,641.64 L719.12,641.81 L721.55,641.98 L723.97,642.14 L726.39,642.30 L728.82,642.45 L731.24,642.60 L733.66,642.74 L736.09,642.88 L738.51,643.01 L740.93,643.14 L743.36,643.27 L745.78,643.39 L747.84,643.49 L748.20,643.50 L750.63,643.62 L753.05,643.73 L755.47,643.83 L757.90,643.93 L760.32,644.03 L762.74,644.13 L765.17,644.22 L767.59,644.31 L770.02,644.40 L772.44,644.49 L774.86,644.57 L777.29,644.65 L779.71,644.73 L782.13,644.81 L784.56,644.88 L786.98,644.96 L789.40,645.03 L791.83,645.10 L794.25,645.17 L796.31,645.22 L796.67,645.23 L799.10,645.30 L801.52,645.36 L803.94,645.42 L806.37,645.48 L808.79,645.54 L811.21,645.60 L813.64,645.66 L816.06,645.71 L818.49,645.76 L820.91,645.82 L823.33,645.87 L825.76,645.92 L828.18,645.96 L830.60,646.01 L833.03,646.06 L835.45,646.10 L837.87,646.14 L840.30,646.19 L842.72,646.23 L844.78,646.26 L845.14,646.27 L847.57,646.31 L849.99,646.35 L852.41,646.38 L854.84,646.42 L857.26,646.45 L859.68,646.49 L862.11,646.52 L864.53,646.56 L866.96,646.59 L869.38,646.62 L871.80,646.65 L874.23,646.68 L876.65,646.71 L879.07,646.74 L881.50,646.77 L883.92,646.79 L886.34,646.82 L888.77,646.85 L891.19,646.88 L893.25,646.90 L893.61,646.90 L896.04,646.93 L898.46,646.96 L900.88,646.98 L903.31,647.01 L905.73,647.03 L908.15,647.06 L910.58,647.08 L913.00,647.11 L915.43,647.13 L917.85,647.15 L920.27,647.18 L922.70,647.20 L925.12,647.22 L927.54,647.24 L929.97,647.26 L932.39,647.28 L934.81,647.30 L937.24,647.32 L939.66,647.34 L941.72,647.35 L942.08,647.35 L944.51,647.37 L946.93,647.39 L949.35,647.40 L951.78,647.42 L954.20,647.43 L956.62,647.45 L959.05,647.46 L961.47,647.48 L963.90,647.49 L966.32,647.50 L968.74,647.52 L971.17,647.53 L973.59,647.54 L976.01,647.56 L978.44,647.57 L980.86,647.58 L983.28,647.59 L985.71,647.60 L988.13,647.61 L990.55,647.62 L992.98,647.63 L995.40,647.64 L997.46,647.65 L997.82,647.65 L1000.25,647.66 L1002.67,647.67 L1005.09,647.68 L1007.52,647.69 L1009.94,647.70 L1012.37,647.71 L1014.79,647.72 L1017.21,647.73 L1019.64,647.74 L1022.06,647.74 L1024.48,647.75 L1026.91,647.76 L1029.33,647.77 L1031.75,647.77 L1034.18,647.78 L1036.60,647.79 L1039.02,647.80 L1041.45,647.80 L1043.87,647.81 L1046.29,647.82 L1048.72,647.82 L1051.14,647.83 L1053.56,647.83 L1055.99,647.84 L1058.41,647.85 L1060.84,647.85 L1063.26,647.86 L1065.68,647.86 L1068.11,647.87 L1070.53,647.87 L1072.95,647.88 L1075.38,647.88 L1077.80,647.89 L1080.22,647.89 L1082.65,647.90 L1085.07,647.90 L1087.49,647.91 L1089.92,647.91 L1092.34,647.91 L1094.76,647.92 L1097.19,647.92 L1099.61,647.93 L1102.03,647.93 L1104.46,647.93 L1106.88,647.94 L1109.31,647.94 L1111.73,647.94 L1114.15,647.95 L1116.58,647.95 L1119.00,647.96 L1121.42,647.96 L1123.85,647.96 L1126.27,647.96 L1128.69,647.97 L1131.12,647.97 L1133.54,647.97 L1135.60,647.98" fill="none" stroke="#ff0000" stroke-width="5.2" stroke-linejoin="round" stroke-linecap="butt"/>
<path d="M166.20,31.00 L168.62,35.38 L171.05,39.83 L173.47,44.36 L175.89,48.95 L178.32,53.60 L180.74,58.31 L183.16,63.08 L185.59,67.91 L188.01,72.78 L190.44,77.71 L192.86,82.67 L195.28,87.68 L197.71,92.73 L200.13,97.82 L201.10,99.86 L202.55,102.97 L204.98,108.32 L207.40,113.78 L209.82,119.29 L212.25,124.74 L214.67,130.05 L217.09,135.27 L219.52,140.47 L221.94,145.61 L224.36,150.66 L226.79,155.58 L229.11,160.14 L229.21,160.33 L231.63,164.91 L234.06,169.37 L236.48,173.72 L238.90,177.99 L241.33,182.20 L243.75,186.37 L246.18,190.54 L248.60,194.71 L251.02,198.91 L251.02,198.91 L253.45,203.17 L255.87,207.45 L258.29,211.70 L260.72,215.84 L263.14,219.84 L265.56,223.69 L267.99,227.46 L270.41,231.15 L272.83,234.77 L275.26,238.34 L277.68,241.85 L280.10,245.32 L282.53,248.75 L283.40,249.98 L284.95,252.15 L287.38,255.52 L289.80,258.86 L292.22,262.14 L294.65,265.38 L297.07,268.56 L299.49,271.68 L301.92,274.72 L302.21,275.09 L304.34,277.70 L306.76,280.59 L309.19,283.40 L311.61,286.10 L314.03,288.71 L316.46,291.23 L318.88,293.68 L321.30,296.10 L323.73,298.51 L325.42,300.19 L326.15,300.92 L328.57,303.35 L331.00,305.78 L333.42,308.20 L335.85,310.62 L338.27,313.01 L340.69,315.37 L343.12,317.70 L345.54,319.97 L347.96,322.20 L349.30,323.39 L350.39,324.36 L352.81,326.45 L355.23,328.49 L357.66,330.47 L360.08,332.40 L362.50,334.29 L364.93,336.16 L367.35,338.01 L369.77,339.81 L372.20,341.57 L374.62,343.29 L377.04,344.94 L378.50,345.91 L379.47,346.54 L381.89,348.09 L384.31,349.60 L386.74,351.07 L389.16,352.51 L391.59,353.93 L394.01,355.32 L396.43,356.69 L398.86,358.05 L401.28,359.39 L403.70,360.73 L406.13,362.06 L408.55,363.39 L410.97,364.71 L413.40,366.01 L415.82,367.30 L418.24,368.57 L420.67,369.84 L423.09,371.09 L425.51,372.33 L427.94,373.57 L430.36,374.81 L432.79,376.04 L435.21,377.28 L437.15,378.27 L437.63,378.52 L440.06,379.78 L442.48,381.06 L444.90,382.35 L447.33,383.62 L449.75,384.87 L452.17,386.07 L454.60,387.21 L457.02,388.28 L459.44,389.28 L461.87,390.25 L464.29,391.17 L466.71,392.06 L469.14,392.93 L471.56,393.77 L473.98,394.60 L476.41,395.41 L478.83,396.22 L481.25,397.02 L483.68,397.81 L486.10,398.57 L488.53,399.31 L490.95,400.03 L493.37,400.75 L495.80,401.47 L498.22,402.19 L500.64,402.92 L503.07,403.67 L505.49,404.44 L505.49,404.44 L507.91,405.23 L510.34,406.05 L512.76,406.89 L515.18,407.74 L517.61,408.61 L520.03,409.49 L522.45,410.37 L524.88,411.26 L527.30,412.15 L529.72,413.04 L532.15,413.92 L534.57,414.79 L537.00,415.66 L539.42,416.51 L541.84,417.34 L544.27,418.16 L546.69,418.95 L549.11,419.71 L550.95,420.28 L551.54,420.45 L553.96,421.17 L556.38,421.88 L558.81,422.58 L561.23,423.27 L563.65,423.95 L566.08,424.62 L568.50,425.28 L570.92,425.94 L573.35,426.58 L575.77,427.22 L578.19,427.85 L580.62,428.47 L583.04,429.09 L585.47,429.70 L587.89,430.31 L590.31,430.91 L592.74,431.50 L595.16,432.09 L597.58,432.68 L600.01,433.26 L602.43,433.84 L604.85,434.41 L607.28,434.98 L609.70,435.54 L612.12,436.09 L614.55,436.64 L616.97,437.18 L619.39,437.71 L621.82,438.24 L624.24,438.77 L626.66,439.29 L629.09,439.81 L631.51,440.33 L633.94,440.84 L636.36,441.35 L638.78,441.86 L641.21,442.36 L643.63,442.87 L646.05,443.37 L648.48,443.88 L650.90,444.38 L653.32,444.88 L655.75,445.38 L658.17,445.88 L660.59,446.38 L663.02,446.87 L665.44,447.37 L667.86,447.86 L670.29,448.35 L672.71,448.84 L675.13,449.32 L677.56,449.80 L679.98,450.28 L682.41,450.76 L684.83,451.23 L687.25,451.69 L689.68,452.16 L692.10,452.62 L694.52,453.07 L696.95,453.52 L699.37,453.96 L701.79,454.41 L704.22,454.85 L706.64,455.28 L709.06,455.72 L711.49,456.15 L713.91,456.58 L716.33,457.00 L718.76,457.43 L721.18,457.84 L723.61,458.26 L726.03,458.67 L728.45,459.08 L730.88,459.48 L733.30,459.88 L735.72,460.28 L738.15,460.67 L740.57,461.05 L742.99,461.43 L745.42,461.81 L747.84,462.18 L750.26,462.54 L752.69,462.90 L755.11,463.26 L757.53,463.61 L759.96,463.96 L762.38,464.30 L764.80,464.64 L767.23,464.98 L769.65,465.32 L772.08,465.65 L774.50,465.97 L776.92,466.30 L779.35,466.62 L781.77,466.94 L784.19,467.26 L786.62,467.57 L789.04,467.88 L791.46,468.19 L793.89,468.49 L796.31,468.80 L798.73,469.10 L801.16,469.40 L803.58,469.69 L806.00,469.99 L808.43,470.28 L810.85,470.57 L813.27,470.86 L815.70,471.14 L818.12,471.43 L820.55,471.71 L822.97,471.98 L825.39,472.26 L827.82,472.53 L830.24,472.80 L832.66,473.07 L835.09,473.33 L837.51,473.59 L839.93,473.85 L842.36,474.11 L844.78,474.36 L844.78,474.36 L847.20,474.61 L849.63,474.85 L852.05,475.09 L854.47,475.33 L856.90,475.57 L859.32,475.80 L861.74,476.04 L864.17,476.26 L866.59,476.49 L869.01,476.72 L871.44,476.94 L873.86,477.16 L876.29,477.38 L878.71,477.60 L881.13,477.82 L883.56,478.04 L885.98,478.26 L888.40,478.48 L890.83,478.70 L893.25,478.91 L895.67,479.13 L898.10,479.35 L900.52,479.56 L902.94,479.78 L905.37,479.99 L907.79,480.21 L910.21,480.42 L912.64,480.63 L915.06,480.84 L917.48,481.05 L919.91,481.26 L922.33,481.47 L924.76,481.67 L927.18,481.88 L929.60,482.08 L932.03,482.29 L934.45,482.49 L936.87,482.69 L939.30,482.90 L941.72,483.10 L944.14,483.30 L946.57,483.50 L948.99,483.70 L951.41,483.89 L953.84,484.09 L956.26,484.28 L958.68,484.48 L961.11,484.67 L963.53,484.86 L965.95,485.05 L968.38,485.25 L970.80,485.44 L973.23,485.63 L975.65,485.82 L978.07,486.01 L980.50,486.20 L982.92,486.39 L985.34,486.58 L987.77,486.77 L990.19,486.97 L992.61,487.16 L995.04,487.35 L997.46,487.54 L999.88,487.74 L1002.31,487.93 L1004.73,488.12 L1007.15,488.31 L1009.58,488.51 L1012.00,488.70 L1014.42,488.89 L1016.85,489.08 L1019.27,489.28 L1021.70,489.47 L1024.12,489.66 L1026.54,489.85 L1028.97,490.03 L1031.39,490.22 L1033.81,490.41 L1036.24,490.59 L1038.66,490.78 L1041.08,490.96 L1043.51,491.15 L1045.93,491.33 L1048.35,491.51 L1050.78,491.69 L1053.20,491.87 L1055.62,492.05 L1058.05,492.23 L1060.47,492.41 L1062.89,492.58 L1065.32,492.76 L1067.74,492.94 L1070.17,493.11 L1072.59,493.29 L1075.01,493.46 L1077.44,493.64 L1079.86,493.81 L1082.28,493.98 L1084.71,494.16 L1087.13,494.33 L1087.13,494.33 L1089.55,494.50 L1091.98,494.67 L1094.40,494.84 L1096.82,495.01 L1099.25,495.18 L1101.67,495.35 L1104.09,495.52 L1106.52,495.69 L1108.94,495.86 L1111.37,496.02 L1113.79,496.19 L1116.21,496.36 L1118.64,496.52 L1121.06,496.69 L1123.48,496.85 L1125.91,497.01 L1128.33,497.18 L1130.75,497.34 L1133.18,497.50 L1135.60,497.67" fill="none" stroke="#ff0000" stroke-width="3.3" stroke-linejoin="round" stroke-linecap="butt" stroke-dasharray="12.3 5.3"/>
<circle cx="214.67" cy="130.00" r="5.15" fill="none" stroke="#ff0000" stroke-width="3.4"/><circle cx="263.14" cy="231.60" r="5.15" fill="none" stroke="#ff0000" stroke-width="3.4"/><circle cx="311.61" cy="274.70" r="5.15" fill="none" stroke="#ff0000" stroke-width="3.4"/><circle cx="360.08" cy="328.00" r="5.15" fill="none" stroke="#ff0000" stroke-width="3.4"/><circle cx="408.55" cy="355.00" r="5.15" fill="none" stroke="#ff0000" stroke-width="3.4"/><circle cx="457.02" cy="389.40" r="5.15" fill="none" stroke="#ff0000" stroke-width="3.4"/><circle cx="505.49" cy="402.10" r="5.15" fill="none" stroke="#ff0000" stroke-width="3.4"/><circle cx="553.96" cy="419.20" r="5.15" fill="none" stroke="#ff0000" stroke-width="3.4"/><circle cx="602.43" cy="434.30" r="5.15" fill="none" stroke="#ff0000" stroke-width="3.4"/><circle cx="650.90" cy="443.00" r="5.15" fill="none" stroke="#ff0000" stroke-width="3.4"/><circle cx="699.37" cy="456.10" r="5.15" fill="none" stroke="#ff0000" stroke-width="3.4"/><circle cx="747.84" cy="457.50" r="5.15" fill="none" stroke="#ff0000" stroke-width="3.4"/><circle cx="796.31" cy="469.10" r="5.15" fill="none" stroke="#ff0000" stroke-width="3.4"/><circle cx="844.78" cy="475.60" r="5.15" fill="none" stroke="#ff0000" stroke-width="3.4"/><circle cx="893.25" cy="476.10" r="5.15" fill="none" stroke="#ff0000" stroke-width="3.4"/><circle cx="941.72" cy="478.90" r="5.15" fill="none" stroke="#ff0000" stroke-width="3.4"/><circle cx="990.19" cy="487.30" r="5.15" fill="none" stroke="#ff0000" stroke-width="3.4"/><circle cx="1038.66" cy="490.30" r="5.15" fill="none" stroke="#ff0000" stroke-width="3.4"/><circle cx="1087.13" cy="492.70" r="5.15" fill="none" stroke="#ff0000" stroke-width="3.4"/><circle cx="1135.60" cy="498.30" r="5.15" fill="none" stroke="#ff0000" stroke-width="3.4"/>
<path d="M547.66,569.93 L548.14,571.69 L548.63,573.38 L549.11,574.99 L549.60,576.53 L550.08,577.97 L550.57,579.33 L551.05,580.59 L551.54,581.76 L552.02,582.83 L552.14,583.08 L552.51,583.82 L552.99,584.78 L553.48,585.70 L553.96,586.58 L554.44,587.44 L554.93,588.25 L555.41,589.02 L555.90,589.75 L556.38,590.44 L556.87,591.09 L557.35,591.69 L557.84,592.24 L558.32,592.75 L558.81,593.21 L559.17,593.52" fill="none" stroke="#ff0000" stroke-width="3.3" stroke-linejoin="round" stroke-linecap="butt" stroke-dasharray="3.3 5.5"/>
<path d="M214.67,124.10 V136.10" stroke="#555555" stroke-width="5.2" fill="none"/><path d="M204.77,124.10 h19.8" stroke="#555555" stroke-width="2.9" fill="none"/><path d="M204.77,136.10 h19.8" stroke="#555555" stroke-width="2.9" fill="none"/><path d="M263.14,214.97 V226.23" stroke="#555555" stroke-width="5.2" fill="none"/><path d="M253.24,214.97 h19.8" stroke="#555555" stroke-width="2.9" fill="none"/><path d="M253.24,226.23 h19.8" stroke="#555555" stroke-width="2.9" fill="none"/><path d="M311.61,280.80 V291.20" stroke="#555555" stroke-width="5.2" fill="none"/><path d="M301.71,280.80 h19.8" stroke="#555555" stroke-width="2.9" fill="none"/><path d="M301.71,291.20 h19.8" stroke="#555555" stroke-width="2.9" fill="none"/><path d="M360.08,330.40 V341.20" stroke="#555555" stroke-width="5.2" fill="none"/><path d="M350.18,330.40 h19.8" stroke="#555555" stroke-width="2.9" fill="none"/><path d="M350.18,341.20 h19.8" stroke="#555555" stroke-width="2.9" fill="none"/><path d="M408.55,364.30 V364.90" stroke="#555555" stroke-width="5.2" fill="none"/><path d="M398.65,364.30 h19.8" stroke="#555555" stroke-width="2.9" fill="none"/><path d="M398.65,364.90 h19.8" stroke="#555555" stroke-width="2.9" fill="none"/><path d="M457.02,397.80 V398.40" stroke="#555555" stroke-width="5.2" fill="none"/><path d="M447.12,397.80 h19.8" stroke="#555555" stroke-width="2.9" fill="none"/><path d="M447.12,398.40 h19.8" stroke="#555555" stroke-width="2.9" fill="none"/><path d="M481.25,412.90 V413.50" stroke="#555555" stroke-width="5.2" fill="none"/><path d="M471.36,412.90 h19.8" stroke="#555555" stroke-width="2.9" fill="none"/><path d="M471.36,413.50 h19.8" stroke="#555555" stroke-width="2.9" fill="none"/><path d="M505.49,481.60 V482.20" stroke="#555555" stroke-width="5.2" fill="none"/><path d="M495.59,481.60 h19.8" stroke="#555555" stroke-width="2.9" fill="none"/><path d="M495.59,482.20 h19.8" stroke="#555555" stroke-width="2.9" fill="none"/><path d="M519.82,583.38 h19.8" stroke="#555555" stroke-width="2.9" fill="none"/><path d="M519.82,583.68 h19.8" stroke="#555555" stroke-width="2.9" fill="none"/><path d="M553.96,592.50 V604.37" stroke="#555555" stroke-width="5.2" fill="none"/><path d="M544.06,592.50 h19.8" stroke="#555555" stroke-width="2.9" fill="none"/><path d="M544.06,604.37 h19.8" stroke="#555555" stroke-width="2.9" fill="none"/><path d="M578.19,608.00 V618.05" stroke="#555555" stroke-width="5.2" fill="none"/><path d="M568.29,608.00 h19.8" stroke="#555555" stroke-width="2.9" fill="none"/><path d="M568.29,618.05 h19.8" stroke="#555555" stroke-width="2.9" fill="none"/><path d="M602.43,622.10 V627.64" stroke="#555555" stroke-width="5.2" fill="none"/><path d="M592.53,622.10 h19.8" stroke="#555555" stroke-width="2.9" fill="none"/><path d="M592.53,627.64 h19.8" stroke="#555555" stroke-width="2.9" fill="none"/><path d="M626.66,628.48 V632.64" stroke="#555555" stroke-width="5.2" fill="none"/><path d="M616.76,628.48 h19.8" stroke="#555555" stroke-width="2.9" fill="none"/><path d="M616.76,632.64 h19.8" stroke="#555555" stroke-width="2.9" fill="none"/><path d="M650.90,632.99 V636.17" stroke="#555555" stroke-width="5.2" fill="none"/><path d="M641.00,632.99 h19.8" stroke="#555555" stroke-width="2.9" fill="none"/><path d="M641.00,636.17 h19.8" stroke="#555555" stroke-width="2.9" fill="none"/><path d="M699.37,639.39 V641.07" stroke="#555555" stroke-width="5.2" fill="none"/><path d="M689.47,639.39 h19.8" stroke="#555555" stroke-width="2.9" fill="none"/><path d="M689.47,641.07 h19.8" stroke="#555555" stroke-width="2.9" fill="none"/><path d="M747.84,642.65 V644.17" stroke="#555555" stroke-width="5.2" fill="none"/><path d="M737.94,642.65 h19.8" stroke="#555555" stroke-width="2.9" fill="none"/><path d="M737.94,644.17 h19.8" stroke="#555555" stroke-width="2.9" fill="none"/><path d="M796.31,644.16 V646.01" stroke="#555555" stroke-width="5.2" fill="none"/><path d="M786.41,644.16 h19.8" stroke="#555555" stroke-width="2.9" fill="none"/><path d="M786.41,646.01 h19.8" stroke="#555555" stroke-width="2.9" fill="none"/><path d="M844.78,646.03 V646.79" stroke="#555555" stroke-width="5.2" fill="none"/><path d="M834.88,646.03 h19.8" stroke="#555555" stroke-width="2.9" fill="none"/><path d="M834.88,646.79 h19.8" stroke="#555555" stroke-width="2.9" fill="none"/><path d="M893.25,646.47 V647.31" stroke="#555555" stroke-width="5.2" fill="none"/><path d="M883.35,646.47 h19.8" stroke="#555555" stroke-width="2.9" fill="none"/><path d="M883.35,647.31 h19.8" stroke="#555555" stroke-width="2.9" fill="none"/><path d="M941.72,646.94 V647.77" stroke="#555555" stroke-width="5.2" fill="none"/><path d="M931.82,646.94 h19.8" stroke="#555555" stroke-width="2.9" fill="none"/><path d="M931.82,647.77 h19.8" stroke="#555555" stroke-width="2.9" fill="none"/>
<circle cx="214.67" cy="229.90" r="5.0" fill="#0000ff"/><circle cx="263.14" cy="320.20" r="5.0" fill="#0000ff"/><circle cx="311.61" cy="387.90" r="5.0" fill="#0000ff"/><circle cx="360.08" cy="432.60" r="5.0" fill="#0000ff"/><circle cx="408.55" cy="466.10" r="5.0" fill="#0000ff"/><circle cx="457.02" cy="489.80" r="5.0" fill="#0000ff"/><circle cx="505.49" cy="508.40" r="5.0" fill="#0000ff"/><circle cx="553.96" cy="522.90" r="5.0" fill="#0000ff"/><circle cx="602.43" cy="537.10" r="5.0" fill="#0000ff"/><circle cx="650.90" cy="577.30" r="5.0" fill="#0000ff"/><circle cx="675.13" cy="602.70" r="5.0" fill="#0000ff"/><circle cx="699.37" cy="619.72" r="5.0" fill="#0000ff"/><circle cx="723.61" cy="627.63" r="5.0" fill="#0000ff"/><circle cx="747.84" cy="631.84" r="5.0" fill="#0000ff"/><circle cx="772.08" cy="636.62" r="5.0" fill="#0000ff"/><circle cx="796.31" cy="638.92" r="5.0" fill="#0000ff"/><circle cx="820.55" cy="640.23" r="5.0" fill="#0000ff"/><circle cx="844.78" cy="641.72" r="5.0" fill="#0000ff"/><circle cx="869.01" cy="643.19" r="5.0" fill="#0000ff"/><circle cx="893.25" cy="644.27" r="5.0" fill="#0000ff"/><circle cx="941.72" cy="645.03" r="5.0" fill="#0000ff"/><circle cx="990.19" cy="646.33" r="5.0" fill="#0000ff"/><circle cx="1038.66" cy="646.93" r="5.0" fill="#0000ff"/><circle cx="1087.13" cy="647.06" r="5.0" fill="#0000ff"/><circle cx="1135.60" cy="647.35" r="5.0" fill="#0000ff"/>
<circle cx="214.67" cy="123.70" r="5.0" fill="#008000"/><circle cx="263.14" cy="125.20" r="5.0" fill="#008000"/><circle cx="311.61" cy="129.90" r="5.0" fill="#008000"/><circle cx="360.08" cy="144.70" r="5.0" fill="#008000"/><circle cx="432.79" cy="456.00" r="5.0" fill="#008000"/><circle cx="444.90" cy="529.70" r="5.0" fill="#008000"/><circle cx="457.02" cy="562.39" r="5.0" fill="#008000"/><circle cx="481.25" cy="594.89" r="5.0" fill="#008000"/><circle cx="505.49" cy="612.29" r="5.0" fill="#008000"/><circle cx="529.72" cy="621.49" r="5.0" fill="#008000"/><circle cx="553.96" cy="629.65" r="5.0" fill="#008000"/><circle cx="578.19" cy="635.10" r="5.0" fill="#008000"/><circle cx="602.43" cy="638.51" r="5.0" fill="#008000"/><circle cx="626.66" cy="639.97" r="5.0" fill="#008000"/><circle cx="675.13" cy="643.41" r="5.0" fill="#008000"/><circle cx="723.61" cy="645.81" r="5.0" fill="#008000"/><circle cx="772.08" cy="646.64" r="5.0" fill="#008000"/><circle cx="820.55" cy="647.24" r="5.0" fill="#008000"/><circle cx="869.01" cy="647.50" r="5.0" fill="#008000"/>
<circle cx="214.67" cy="130.10" r="5.0" fill="#ff0000"/><circle cx="263.14" cy="220.60" r="5.0" fill="#ff0000"/><circle cx="311.61" cy="286.00" r="5.0" fill="#ff0000"/><circle cx="360.08" cy="335.80" r="5.0" fill="#ff0000"/><circle cx="408.55" cy="364.60" r="5.0" fill="#ff0000"/><circle cx="457.02" cy="398.10" r="5.0" fill="#ff0000"/><circle cx="481.25" cy="413.20" r="5.0" fill="#ff0000"/><circle cx="505.49" cy="481.90" r="5.0" fill="#ff0000"/><circle cx="529.72" cy="583.53" r="5.0" fill="#ff0000"/><circle cx="553.96" cy="598.44" r="5.0" fill="#ff0000"/><circle cx="578.19" cy="613.02" r="5.0" fill="#ff0000"/><circle cx="602.43" cy="624.87" r="5.0" fill="#ff0000"/><circle cx="626.66" cy="630.56" r="5.0" fill="#ff0000"/><circle cx="650.90" cy="634.58" r="5.0" fill="#ff0000"/><circle cx="699.37" cy="640.23" r="5.0" fill="#ff0000"/><circle cx="747.84" cy="643.41" r="5.0" fill="#ff0000"/><circle cx="796.31" cy="645.09" r="5.0" fill="#ff0000"/><circle cx="844.78" cy="646.41" r="5.0" fill="#ff0000"/><circle cx="893.25" cy="646.89" r="5.0" fill="#ff0000"/><circle cx="941.72" cy="647.35" r="5.0" fill="#ff0000"/>
</g>
<rect x="166.2" y="12.5" width="994.20" height="635.60" fill="none" stroke="#000" stroke-width="2.6"/>
<path d="M166.20,648.1 v11.4" stroke="#000" stroke-width="2.8"/>
<path d="M408.55,648.1 v11.4" stroke="#000" stroke-width="2.8"/>
<path d="M650.90,648.1 v11.4" stroke="#000" stroke-width="2.8"/>
<path d="M893.25,648.1 v11.4" stroke="#000" stroke-width="2.8"/>
<path d="M1135.60,648.1 v11.4" stroke="#000" stroke-width="2.8"/>
<path d="M166.2,648.10 h-11.4" stroke="#000" stroke-width="2.8"/>
<path d="M166.2,542.16 h-11.4" stroke="#000" stroke-width="2.8"/>
<path d="M166.2,436.22 h-11.4" stroke="#000" stroke-width="2.8"/>
<path d="M166.2,330.28 h-11.4" stroke="#000" stroke-width="2.8"/>
<path d="M166.2,224.34 h-11.4" stroke="#000" stroke-width="2.8"/>
<path d="M166.2,118.40 h-11.4" stroke="#000" stroke-width="2.8"/>
<path d="M166.2,12.46 h-11.4" stroke="#000" stroke-width="2.8"/>
<g font-family="'Liberation Serif','DejaVu Serif',serif" font-size="41.2" fill="#000" stroke="#fff" stroke-width="0.5" stroke-linejoin="round" letter-spacing="-0.4">
<text x="166.20" y="699.1" text-anchor="middle">0</text>
<text x="408.55" y="699.1" text-anchor="middle">1</text>
<text x="650.90" y="699.1" text-anchor="middle">2</text>
<text x="893.25" y="699.1" text-anchor="middle">3</text>
<text x="1135.60" y="699.1" text-anchor="middle">4</text>
<text x="143.2" y="662.70" text-anchor="end">0.0</text>
<text x="143.2" y="556.76" text-anchor="end">0.2</text>
<text x="143.2" y="450.82" text-anchor="end">0.4</text>
<text x="143.2" y="344.88" text-anchor="end">0.6</text>
<text x="143.2" y="238.94" text-anchor="end">0.8</text>
<text x="143.2" y="133.00" text-anchor="end">1.0</text>
<text x="143.2" y="27.06" text-anchor="end">1.2</text>
</g>
<text transform="translate(647.0,755.0) scale(1.14,1)" font-family="'Liberation Serif','DejaVu Serif',serif" font-style="italic" font-size="50" fill="#000" stroke="#fff" stroke-width="0.7" stroke-linejoin="round">α</text>
<text transform="translate(72.0,367.3) rotate(-90) scale(1.05,1)" font-family="'Liberation Serif','DejaVu Serif',serif" font-style="italic" font-size="50" fill="#000" stroke="#fff" stroke-width="0.7" stroke-linejoin="round">ε</text>
<text transform="translate(52.3,346.9) rotate(-90) scale(1.15,1)" font-family="'Liberation Serif','DejaVu Serif',serif" font-size="35.5" fill="#000" stroke="#fff" stroke-width="0.4" stroke-linejoin="round">opt</text>
<rect x="951.4" y="335.1" width="179.9" height="177.9" rx="7" ry="7" fill="#fff" fill-opacity="0.8" stroke="#ccc" stroke-opacity="0.8" stroke-width="2.8"/>
<path d="M964.5,365.00 H1049.8" stroke="#0000ff" stroke-width="5.2"/>
<text transform="translate(1078.4,379.50) scale(1.23,1)" font-family="'Liberation Serif','DejaVu Serif',serif" font-style="italic" font-size="35.5" fill="#000" stroke="#fff" stroke-width="0.6" stroke-linejoin="round">σ</text><text x="1100.6" y="385.30" font-family="'Liberation Serif','DejaVu Serif',serif" font-size="28" fill="#000" stroke="#fff" stroke-width="0.35" stroke-linejoin="round">1</text>
<path d="M964.5,420.65 H1049.8" stroke="#008000" stroke-width="5.2"/>
<text transform="translate(1078.4,435.15) scale(1.23,1)" font-family="'Liberation Serif','DejaVu Serif',serif" font-style="italic" font-size="35.5" fill="#000" stroke="#fff" stroke-width="0.6" stroke-linejoin="round">σ</text><text x="1100.6" y="440.95" font-family="'Liberation Serif','DejaVu Serif',serif" font-size="28" fill="#000" stroke="#fff" stroke-width="0.35" stroke-linejoin="round">2</text>
<path d="M964.5,476.30 H1049.8" stroke="#ff0000" stroke-width="5.2"/>
<text transform="translate(1078.4,490.80) scale(1.23,1)" font-family="'Liberation Serif','DejaVu Serif',serif" font-style="italic" font-size="35.5" fill="#000" stroke="#fff" stroke-width="0.6" stroke-linejoin="round">σ</text><text x="1100.6" y="496.60" font-family="'Liberation Serif','DejaVu Serif',serif" font-size="28" fill="#000" stroke="#fff" stroke-width="0.35" stroke-linejoin="round">3</text>
<rect x="663.6" y="31.6" width="476.50" height="235.10" fill="#fff"/>
<g clip-path="url(#ci)">
<path d="M986.84,173.80 L988.33,174.60 L989.82,175.40 L991.31,176.20 L992.80,177.00 L994.29,177.81 L995.78,178.62 L997.27,179.44 L998.76,180.25 L1000.25,181.07 L1001.74,181.89 L1003.23,182.72 L1004.72,183.55 L1006.07,184.30 L1006.22,184.38 L1007.71,185.22 L1009.20,186.06 L1010.69,186.91 L1012.18,187.76 L1013.67,188.62 L1015.16,189.47 L1016.65,190.34 L1018.14,191.20 L1019.63,192.06 L1021.12,192.93 L1022.61,193.80 L1024.10,194.67 L1025.59,195.53 L1027.08,196.40 L1028.57,197.27 L1030.06,198.14 L1031.55,199.00 L1033.04,199.87 L1034.53,200.73 L1035.87,201.50 L1036.02,201.59 L1037.51,202.44 L1039.00,203.30 L1040.49,204.16 L1041.98,205.02 L1043.47,205.88 L1044.96,206.74 L1046.45,207.59 L1047.94,208.45 L1049.43,209.31 L1050.92,210.17 L1052.41,211.02 L1053.90,211.88 L1055.39,212.73 L1056.89,213.59 L1058.38,214.44 L1059.87,215.29 L1061.36,216.14 L1062.85,216.99 L1064.34,217.84 L1065.68,218.60 L1065.83,218.68 L1067.32,219.53 L1068.81,220.37 L1070.30,221.22 L1071.79,222.06 L1073.28,222.91 L1074.77,223.75 L1076.26,224.59 L1077.75,225.43 L1079.24,226.27 L1080.73,227.11 L1082.22,227.95 L1083.71,228.78 L1085.20,229.61 L1086.69,230.45 L1088.18,231.27 L1089.67,232.10 L1091.16,232.93 L1092.65,233.75 L1094.14,234.57 L1095.48,235.30 L1095.63,235.38 L1097.12,236.19 L1098.61,237.01 L1100.10,237.82 L1101.59,238.62 L1103.08,239.43 L1104.57,240.23 L1106.07,241.03 L1107.56,241.83 L1109.05,242.63 L1110.54,243.43 L1112.03,244.22 L1113.52,245.01 L1115.01,245.80 L1116.50,246.59 L1117.99,247.38 L1119.48,248.16 L1120.97,248.94 L1122.46,249.72 L1123.95,250.50 L1125.29,251.20" fill="none" stroke="#0000ff" stroke-width="3.3" stroke-linejoin="round" stroke-linecap="butt"/>
<path d="M874.92,84.30 L876.41,87.01 L877.90,89.56 L879.39,91.90 L879.39,91.90 L880.88,94.05 L882.37,96.05 L883.86,97.94 L884.40,98.60 L885.35,99.76 L886.84,101.53 L888.33,103.26 L889.82,104.95 L891.31,106.58 L892.80,108.17 L894.29,109.71 L895.78,111.20 L896.60,112.00 L897.27,112.64 L898.76,114.03 L900.25,115.38 L901.74,116.69 L903.24,117.97 L904.73,119.21 L906.22,120.44 L907.71,121.64 L909.20,122.83 L910.30,123.70 L910.69,124.00 L912.18,125.17 L913.67,126.32 L915.16,127.45 L916.65,128.57 L918.14,129.68 L919.63,130.78 L921.12,131.87 L922.61,132.95 L924.10,134.01 L925.59,135.07 L927.08,136.12 L928.57,137.16 L930.06,138.20 L931.55,139.23 L933.04,140.25 L934.53,141.27 L936.02,142.28 L937.51,143.29 L938.70,144.10 L939.00,144.30 L940.49,145.30 L941.98,146.29 L943.47,147.26 L944.96,148.23 L946.45,149.19 L947.94,150.14 L949.43,151.08 L950.92,152.02 L952.42,152.96 L953.76,153.80 L953.91,153.89 L955.40,154.82 L956.89,155.75 L958.38,156.68 L959.87,157.60 L961.36,158.52 L962.85,159.43 L964.34,160.35 L965.83,161.26 L967.32,162.17 L968.81,163.07 L970.30,163.97 L971.79,164.87 L973.28,165.76 L974.77,166.65 L976.26,167.53 L977.75,168.41 L979.24,169.29 L980.73,170.16 L982.22,171.03 L983.71,171.89 L985.20,172.75 L985.29,172.80" fill="none" stroke="#0000ff" stroke-width="3.3" stroke-linejoin="round" stroke-linecap="butt" stroke-dasharray="3.3 5.5"/>
<path d="M708.01,9.05 V10.47" stroke="#555555" stroke-width="5.2" fill="none"/><path d="M698.11,9.05 h19.8" stroke="#555555" stroke-width="2.9" fill="none"/><path d="M698.11,10.47 h19.8" stroke="#555555" stroke-width="2.9" fill="none"/><path d="M737.81,14.38 V16.00" stroke="#555555" stroke-width="5.2" fill="none"/><path d="M727.91,14.38 h19.8" stroke="#555555" stroke-width="2.9" fill="none"/><path d="M727.91,16.00 h19.8" stroke="#555555" stroke-width="2.9" fill="none"/><path d="M767.62,19.70 V20.19" stroke="#555555" stroke-width="5.2" fill="none"/><path d="M757.72,19.70 h19.8" stroke="#555555" stroke-width="2.9" fill="none"/><path d="M757.72,20.19 h19.8" stroke="#555555" stroke-width="2.9" fill="none"/><path d="M797.42,24.13 V26.24" stroke="#555555" stroke-width="5.2" fill="none"/><path d="M787.52,24.13 h19.8" stroke="#555555" stroke-width="2.9" fill="none"/><path d="M787.52,26.24 h19.8" stroke="#555555" stroke-width="2.9" fill="none"/><path d="M827.23,37.09 V53.93" stroke="#555555" stroke-width="5.2" fill="none"/><path d="M817.33,37.09 h19.8" stroke="#555555" stroke-width="2.9" fill="none"/><path d="M817.33,53.93 h19.8" stroke="#555555" stroke-width="2.9" fill="none"/><path d="M842.13,53.36 V78.13" stroke="#555555" stroke-width="5.2" fill="none"/><path d="M832.23,53.36 h19.8" stroke="#555555" stroke-width="2.9" fill="none"/><path d="M832.23,78.13 h19.8" stroke="#555555" stroke-width="2.9" fill="none"/><path d="M857.04,79.55 V89.86" stroke="#555555" stroke-width="5.2" fill="none"/><path d="M847.14,79.55 h19.8" stroke="#555555" stroke-width="2.9" fill="none"/><path d="M847.14,89.86 h19.8" stroke="#555555" stroke-width="2.9" fill="none"/><path d="M871.94,94.61 V102.99" stroke="#555555" stroke-width="5.2" fill="none"/><path d="M862.04,94.61 h19.8" stroke="#555555" stroke-width="2.9" fill="none"/><path d="M862.04,102.99 h19.8" stroke="#555555" stroke-width="2.9" fill="none"/><path d="M886.84,101.91 V116.51" stroke="#555555" stroke-width="5.2" fill="none"/><path d="M876.94,101.91 h19.8" stroke="#555555" stroke-width="2.9" fill="none"/><path d="M876.94,116.51 h19.8" stroke="#555555" stroke-width="2.9" fill="none"/><path d="M901.75,115.94 V133.16" stroke="#555555" stroke-width="5.2" fill="none"/><path d="M891.85,115.94 h19.8" stroke="#555555" stroke-width="2.9" fill="none"/><path d="M891.85,133.16 h19.8" stroke="#555555" stroke-width="2.9" fill="none"/><path d="M916.65,127.93 V139.66" stroke="#555555" stroke-width="5.2" fill="none"/><path d="M906.75,127.93 h19.8" stroke="#555555" stroke-width="2.9" fill="none"/><path d="M906.75,139.66 h19.8" stroke="#555555" stroke-width="2.9" fill="none"/><path d="M931.55,134.63 V146.36" stroke="#555555" stroke-width="5.2" fill="none"/><path d="M921.65,134.63 h19.8" stroke="#555555" stroke-width="2.9" fill="none"/><path d="M921.65,146.36 h19.8" stroke="#555555" stroke-width="2.9" fill="none"/><path d="M946.45,141.27 V158.91" stroke="#555555" stroke-width="5.2" fill="none"/><path d="M936.55,141.27 h19.8" stroke="#555555" stroke-width="2.9" fill="none"/><path d="M936.55,158.91 h19.8" stroke="#555555" stroke-width="2.9" fill="none"/><path d="M961.36,154.95 V167.10" stroke="#555555" stroke-width="5.2" fill="none"/><path d="M951.46,154.95 h19.8" stroke="#555555" stroke-width="2.9" fill="none"/><path d="M951.46,167.10 h19.8" stroke="#555555" stroke-width="2.9" fill="none"/><path d="M976.26,162.81 V182.12" stroke="#555555" stroke-width="5.2" fill="none"/><path d="M966.36,162.81 h19.8" stroke="#555555" stroke-width="2.9" fill="none"/><path d="M966.36,182.12 h19.8" stroke="#555555" stroke-width="2.9" fill="none"/><path d="M1006.07,169.99 V195.79" stroke="#555555" stroke-width="5.2" fill="none"/><path d="M996.17,169.99 h19.8" stroke="#555555" stroke-width="2.9" fill="none"/><path d="M996.17,195.79 h19.8" stroke="#555555" stroke-width="2.9" fill="none"/><path d="M1035.87,193.91 V219.64" stroke="#555555" stroke-width="5.2" fill="none"/><path d="M1025.97,193.91 h19.8" stroke="#555555" stroke-width="2.9" fill="none"/><path d="M1025.97,219.64 h19.8" stroke="#555555" stroke-width="2.9" fill="none"/><path d="M1065.68,210.56 V239.91" stroke="#555555" stroke-width="5.2" fill="none"/><path d="M1055.78,210.56 h19.8" stroke="#555555" stroke-width="2.9" fill="none"/><path d="M1055.78,239.91 h19.8" stroke="#555555" stroke-width="2.9" fill="none"/><path d="M1095.48,215.18 V245.66" stroke="#555555" stroke-width="5.2" fill="none"/><path d="M1085.58,215.18 h19.8" stroke="#555555" stroke-width="2.9" fill="none"/><path d="M1085.58,245.66 h19.8" stroke="#555555" stroke-width="2.9" fill="none"/><path d="M1125.29,228.31 V263.06" stroke="#555555" stroke-width="5.2" fill="none"/><path d="M1115.39,228.31 h19.8" stroke="#555555" stroke-width="2.9" fill="none"/><path d="M1115.39,263.06 h19.8" stroke="#555555" stroke-width="2.9" fill="none"/>
<path d="M696.05,31.80 L697.54,33.67 L699.03,35.53 L700.52,37.38 L702.01,39.22 L703.51,41.05 L705.00,42.87 L706.49,44.67 L707.98,46.46 L708.01,46.50 L709.47,48.25 L710.96,50.02 L712.45,51.78 L713.94,53.53 L715.43,55.28 L716.92,57.01 L718.41,58.74 L719.90,60.45 L721.39,62.16 L722.88,63.87 L722.91,63.90 L724.37,65.57 L725.86,67.26 L727.35,68.96 L728.84,70.64 L730.33,72.32 L731.82,73.99 L733.31,75.64 L734.80,77.27 L736.29,78.88 L737.78,80.47 L737.81,80.50 L739.27,82.04 L740.76,83.59 L742.25,85.13 L743.74,86.65 L745.23,88.16 L746.72,89.66 L748.21,91.13 L749.70,92.60 L751.19,94.04 L752.69,95.47 L752.72,95.50 L754.18,96.88 L755.67,98.26 L757.16,99.63 L758.65,100.98 L760.14,102.31 L761.63,103.64 L763.12,104.97 L764.61,106.30 L766.10,107.63 L767.59,108.97 L767.62,109.00 L769.08,110.33 L770.57,111.69 L772.06,113.06 L773.55,114.42 L775.04,115.79 L776.53,117.15 L778.02,118.50 L779.51,119.84 L781.00,121.17 L782.49,122.47 L782.52,122.50 L783.98,123.77 L785.47,125.05 L786.96,126.32 L788.45,127.58 L789.94,128.83 L791.43,130.07 L792.92,131.31 L794.41,132.54 L795.90,133.76 L797.39,134.98 L797.42,135.00 L798.88,136.19 L800.37,137.39 L801.87,138.58 L803.36,139.77 L804.85,140.95 L806.34,142.13 L807.83,143.30 L809.32,144.46 L810.81,145.62 L812.30,146.78 L812.33,146.80 L813.79,147.92 L815.28,149.06 L816.77,150.18 L818.26,151.30 L819.75,152.42 L821.24,153.53 L822.73,154.65 L824.22,155.78 L825.71,156.92 L827.20,158.08 L827.23,158.10 L828.69,159.25 L830.18,160.42 L831.67,161.61 L833.16,162.80 L834.65,164.00 L836.14,165.21 L837.63,166.42 L839.12,167.63 L840.61,168.85 L842.10,170.07 L843.59,171.30 L845.08,172.52 L846.57,173.75 L848.06,174.97 L849.55,176.20 L851.04,177.42 L852.54,178.64 L854.03,179.86 L855.52,181.07 L857.01,182.28 L857.04,182.30 L858.50,183.48 L859.99,184.69 L861.48,185.90 L862.97,187.10 L864.46,188.31 L865.95,189.52 L867.44,190.73 L868.93,191.94 L870.42,193.15 L871.91,194.35 L873.40,195.56 L874.89,196.76 L876.38,197.96 L877.87,199.16 L879.36,200.35 L880.85,201.54 L882.34,202.73 L883.83,203.92 L885.32,205.10 L886.81,206.28 L886.84,206.30 L888.30,207.45 L889.79,208.62 L891.28,209.78 L892.77,210.95 L894.26,212.11 L895.75,213.26 L897.24,214.42 L898.73,215.57 L900.22,216.72 L901.72,217.87 L903.21,219.02 L904.70,220.16 L906.19,221.30 L907.68,222.45 L909.17,223.59 L910.66,224.73 L912.15,225.86 L913.64,227.00 L915.13,228.14 L916.62,229.28 L916.65,229.30 L918.11,230.41 L919.60,231.55 L921.09,232.68 L922.58,233.81 L924.07,234.95 L925.56,236.07 L927.05,237.20 L928.54,238.33 L930.03,239.45 L931.52,240.58 L933.01,241.70 L934.50,242.83 L935.99,243.95 L937.48,245.07 L938.97,246.19 L940.46,247.31 L941.95,248.43 L943.44,249.54 L944.93,250.66 L946.42,251.78 L946.45,251.80 L947.91,252.89 L949.40,254.00 L950.90,255.11 L952.39,256.22 L953.88,257.33 L955.37,258.44 L956.86,259.55 L958.35,260.65 L959.84,261.76 L961.33,262.88 L961.36,262.90 L962.82,263.99 L964.31,265.11 L965.80,266.22 L967.29,267.34 L968.78,268.45 L970.27,269.56 L971.76,270.68 L973.25,271.79 L974.74,272.91 L976.23,274.02 L977.72,275.14 L979.21,276.25 L980.70,277.37 L982.19,278.49 L983.68,279.60 L985.17,280.72 L986.66,281.83 L988.15,282.95 L989.64,284.06 L991.13,285.18 L992.62,286.30 L994.11,287.41 L995.60,288.53 L997.09,289.65 L998.58,290.76 L1000.07,291.88 L1001.57,293.00 L1003.06,294.11 L1004.55,295.23 L1006.04,296.35 L1007.53,297.46 L1009.02,298.58 L1010.51,299.70 L1012.00,300.82 L1013.49,301.94 L1014.98,303.05 L1016.47,304.17 L1017.96,305.29 L1019.45,306.41 L1020.94,307.53 L1022.43,308.65 L1023.92,309.76 L1025.41,310.88 L1026.90,312.00 L1028.39,313.12 L1029.88,314.24 L1031.37,315.36 L1032.86,316.48 L1034.35,317.60 L1035.84,318.72 L1037.33,319.84 L1038.82,320.96 L1040.31,322.08 L1041.80,323.20 L1043.29,324.32 L1044.78,325.45 L1046.27,326.57 L1047.76,327.69 L1049.25,328.81 L1050.75,329.93 L1052.24,331.05 L1053.73,332.18 L1055.22,333.30 L1056.71,334.42 L1058.20,335.54 L1059.69,336.67 L1061.18,337.79 L1062.67,338.91 L1064.16,340.04 L1065.65,341.16 L1067.14,342.28 L1068.63,343.41 L1070.12,344.53 L1071.61,345.66 L1073.10,346.78 L1074.59,347.90 L1076.08,349.03 L1077.57,350.15 L1079.06,351.28 L1080.55,352.41 L1082.04,353.53 L1083.53,354.66 L1085.02,355.78 L1086.51,356.91 L1088.00,358.04 L1089.49,359.16 L1090.98,360.29 L1092.47,361.42 L1093.96,362.55 L1095.45,363.67 L1096.94,364.80 L1098.43,365.93 L1099.93,367.06 L1101.42,368.19 L1102.91,369.32 L1104.40,370.44 L1105.89,371.57 L1107.38,372.70 L1108.87,373.83 L1110.36,374.96 L1111.85,376.09 L1113.34,377.22 L1114.83,378.36 L1116.32,379.49 L1117.81,380.62 L1119.30,381.75 L1120.79,382.88 L1122.28,384.01 L1123.77,385.14 L1125.26,386.28 L1125.29,386.30" fill="none" stroke="#008000" stroke-width="3.3" stroke-linejoin="round" stroke-linecap="butt"/>
<path d="M700.55,18.56 V26.54" stroke="#555555" stroke-width="5.2" fill="none"/><path d="M690.65,18.56 h19.8" stroke="#555555" stroke-width="2.9" fill="none"/><path d="M690.65,26.54 h19.8" stroke="#555555" stroke-width="2.9" fill="none"/><path d="M708.01,31.94 V41.37" stroke="#555555" stroke-width="5.2" fill="none"/><path d="M698.11,31.94 h19.8" stroke="#555555" stroke-width="2.9" fill="none"/><path d="M698.11,41.37 h19.8" stroke="#555555" stroke-width="2.9" fill="none"/><path d="M722.91,51.96 V62.93" stroke="#555555" stroke-width="5.2" fill="none"/><path d="M713.01,51.96 h19.8" stroke="#555555" stroke-width="2.9" fill="none"/><path d="M713.01,62.93 h19.8" stroke="#555555" stroke-width="2.9" fill="none"/><path d="M737.81,69.81 V79.31" stroke="#555555" stroke-width="5.2" fill="none"/><path d="M727.91,69.81 h19.8" stroke="#555555" stroke-width="2.9" fill="none"/><path d="M727.91,79.31 h19.8" stroke="#555555" stroke-width="2.9" fill="none"/><path d="M752.72,81.95 V93.17" stroke="#555555" stroke-width="5.2" fill="none"/><path d="M742.82,81.95 h19.8" stroke="#555555" stroke-width="2.9" fill="none"/><path d="M742.82,93.17 h19.8" stroke="#555555" stroke-width="2.9" fill="none"/><path d="M767.62,95.36 V112.53" stroke="#555555" stroke-width="5.2" fill="none"/><path d="M757.72,95.36 h19.8" stroke="#555555" stroke-width="2.9" fill="none"/><path d="M757.72,112.53 h19.8" stroke="#555555" stroke-width="2.9" fill="none"/><path d="M782.52,112.39 V125.15" stroke="#555555" stroke-width="5.2" fill="none"/><path d="M772.62,112.39 h19.8" stroke="#555555" stroke-width="2.9" fill="none"/><path d="M772.62,125.15 h19.8" stroke="#555555" stroke-width="2.9" fill="none"/><path d="M797.42,126.40 V137.28" stroke="#555555" stroke-width="5.2" fill="none"/><path d="M787.52,126.40 h19.8" stroke="#555555" stroke-width="2.9" fill="none"/><path d="M787.52,137.28 h19.8" stroke="#555555" stroke-width="2.9" fill="none"/><path d="M812.33,133.26 V144.92" stroke="#555555" stroke-width="5.2" fill="none"/><path d="M802.43,133.26 h19.8" stroke="#555555" stroke-width="2.9" fill="none"/><path d="M802.43,144.92 h19.8" stroke="#555555" stroke-width="2.9" fill="none"/><path d="M842.13,153.04 V174.87" stroke="#555555" stroke-width="5.2" fill="none"/><path d="M832.23,153.04 h19.8" stroke="#555555" stroke-width="2.9" fill="none"/><path d="M832.23,174.87 h19.8" stroke="#555555" stroke-width="2.9" fill="none"/><path d="M871.94,183.48 V207.36" stroke="#555555" stroke-width="5.2" fill="none"/><path d="M862.04,183.48 h19.8" stroke="#555555" stroke-width="2.9" fill="none"/><path d="M862.04,207.36 h19.8" stroke="#555555" stroke-width="2.9" fill="none"/><path d="M901.75,198.63 V235.29" stroke="#555555" stroke-width="5.2" fill="none"/><path d="M891.85,198.63 h19.8" stroke="#555555" stroke-width="2.9" fill="none"/><path d="M891.85,235.29 h19.8" stroke="#555555" stroke-width="2.9" fill="none"/><path d="M931.55,217.80 V268.77" stroke="#555555" stroke-width="5.2" fill="none"/><path d="M921.65,217.80 h19.8" stroke="#555555" stroke-width="2.9" fill="none"/><path d="M921.65,268.77 h19.8" stroke="#555555" stroke-width="2.9" fill="none"/><path d="M961.36,234.10 V282.99" stroke="#555555" stroke-width="5.2" fill="none"/><path d="M951.46,234.10 h19.8" stroke="#555555" stroke-width="2.9" fill="none"/><path d="M951.46,282.99 h19.8" stroke="#555555" stroke-width="2.9" fill="none"/>
<path d="M770.82,56.00 L772.31,58.38 L773.80,60.72 L775.29,63.01 L776.78,65.25 L778.27,67.43 L779.76,69.55 L781.25,71.61 L782.52,73.30 L782.74,73.59 L784.23,75.53 L785.73,77.42 L787.22,79.28 L788.71,81.09 L790.20,82.86 L791.69,84.58 L793.18,86.26 L794.67,87.90 L796.16,89.49 L797.42,90.80 L797.65,91.03 L799.14,92.52 L800.63,93.95 L802.12,95.35 L803.61,96.70 L805.10,98.03 L806.59,99.34 L808.08,100.63 L809.57,101.91 L811.06,103.20 L812.33,104.30 L812.55,104.49 L814.04,105.78 L815.53,107.06 L817.02,108.33 L818.51,109.59 L820.00,110.84 L821.49,112.08 L822.98,113.32 L824.47,114.54 L825.96,115.77 L827.23,116.80 L827.45,116.98 L828.94,118.19 L830.43,119.40 L831.92,120.60 L833.41,121.79 L834.91,122.98 L836.40,124.16 L837.89,125.34 L839.38,126.52 L840.87,127.69 L842.36,128.86 L843.85,130.02 L845.34,131.19 L846.83,132.35 L848.32,133.51 L849.81,134.67 L851.30,135.83 L852.79,136.99 L854.28,138.15 L855.77,139.31 L857.04,140.30 L857.26,140.47 L858.75,141.64 L860.24,142.81 L861.73,143.98 L863.22,145.15 L864.71,146.32 L866.20,147.50 L867.69,148.67 L869.18,149.84 L870.67,151.01 L872.16,152.17 L873.65,153.33 L875.14,154.49 L876.63,155.64 L878.12,156.78 L879.61,157.92 L881.10,159.05 L882.59,160.17 L884.08,161.28 L885.58,162.37 L886.84,163.30 L887.07,163.46 L888.56,164.54 L890.05,165.61 L891.54,166.67 L893.03,167.72 L894.52,168.77 L896.01,169.81 L897.50,170.84 L898.99,171.87 L900.48,172.90 L901.97,173.91 L903.46,174.93 L904.95,175.94 L906.44,176.95 L907.93,177.95 L909.42,178.95 L910.91,179.95 L912.40,180.95 L913.89,181.95 L915.38,182.95 L916.65,183.80 L916.87,183.95 L918.36,184.95 L919.85,185.94 L921.34,186.94 L922.83,187.93 L924.32,188.92 L925.81,189.90 L927.30,190.89 L928.79,191.87 L930.28,192.85 L931.77,193.82 L933.26,194.80 L934.76,195.77 L936.25,196.73 L937.74,197.70 L939.23,198.66 L940.72,199.63 L942.21,200.58 L943.70,201.54 L945.19,202.49 L946.45,203.30 L946.68,203.44 L948.17,204.39 L949.66,205.32 L951.15,206.25 L952.64,207.17 L954.13,208.09 L955.62,209.00 L957.11,209.91 L958.60,210.82 L960.09,211.72 L961.58,212.63 L963.07,213.54 L964.56,214.45 L966.05,215.36 L967.54,216.28 L969.03,217.20 L970.52,218.13 L972.01,219.07 L973.50,220.02 L974.99,220.98 L976.26,221.80 L976.48,221.95 L977.97,222.93 L979.46,223.92 L980.95,224.92 L982.44,225.94 L983.94,226.96 L985.43,227.99 L986.92,229.02 L988.41,230.06 L989.90,231.10 L991.39,232.14 L992.88,233.19 L994.37,234.24 L995.86,235.28 L997.35,236.32 L998.84,237.36 L1000.33,238.39 L1001.82,239.42 L1003.31,240.44 L1004.80,241.45 L1006.07,242.30 L1006.29,242.45 L1007.78,243.44 L1009.27,244.43 L1010.76,245.42 L1012.25,246.40 L1013.74,247.38 L1015.23,248.35 L1016.72,249.32 L1018.21,250.29 L1019.70,251.26 L1021.19,252.22 L1022.68,253.18 L1024.17,254.14 L1025.66,255.11 L1027.15,256.07 L1028.64,257.03 L1030.13,257.99 L1031.62,258.95 L1033.11,259.91 L1034.61,260.87 L1036.10,261.84 L1037.59,262.80 L1039.08,263.77 L1040.34,264.60 L1040.57,264.75 L1042.06,265.72 L1043.55,266.69 L1045.04,267.66 L1046.53,268.64 L1048.02,269.61 L1049.51,270.59 L1051.00,271.56 L1052.49,272.53 L1053.98,273.51 L1055.47,274.48 L1056.96,275.45 L1058.45,276.43 L1059.94,277.40 L1061.43,278.38 L1062.92,279.35 L1064.41,280.33 L1065.90,281.30 L1067.39,282.28 L1068.88,283.25 L1070.37,284.23 L1071.86,285.20 L1073.35,286.18 L1074.84,287.16 L1076.33,288.13 L1077.82,289.11 L1079.31,290.08 L1080.80,291.06 L1082.29,292.04 L1083.79,293.02 L1085.28,293.99 L1086.77,294.97 L1088.26,295.95 L1089.75,296.92 L1091.24,297.90 L1092.73,298.88 L1094.22,299.86 L1095.71,300.84 L1097.20,301.82 L1098.69,302.79 L1100.18,303.77 L1101.67,304.75 L1103.16,305.73 L1104.65,306.71 L1106.14,307.69 L1107.63,308.67 L1109.12,309.65 L1110.61,310.63 L1112.10,311.61 L1113.59,312.59 L1115.08,313.57 L1116.57,314.56 L1118.06,315.54 L1119.55,316.52 L1121.04,317.50 L1122.53,318.48 L1124.02,319.46 L1125.29,320.30" fill="none" stroke="#ff0000" stroke-width="3.3" stroke-linejoin="round" stroke-linecap="butt"/>
<path d="M763.74,40.40 L764.04,41.39 L764.34,42.36 L764.64,43.31 L764.94,44.23 L765.23,45.11 L765.53,45.96 L765.83,46.77 L766.13,47.53 L766.43,48.23 L766.50,48.40 L766.72,48.90 L767.02,49.55 L767.32,50.18 L767.62,50.80 L767.92,51.41 L768.21,51.99 L768.51,52.56 L768.81,53.10 L769.11,53.62 L769.41,54.10 L769.70,54.56 L770.00,54.99 L770.30,55.39 L770.60,55.75 L770.82,56.00" fill="none" stroke="#ff0000" stroke-width="3.3" stroke-linejoin="round" stroke-linecap="butt" stroke-dasharray="3.3 5.5"/>
<path d="M742.82,48.60 h19.8" stroke="#555555" stroke-width="2.9" fill="none"/><path d="M742.82,48.80 h19.8" stroke="#555555" stroke-width="2.9" fill="none"/><path d="M767.62,55.20 V65.63" stroke="#555555" stroke-width="5.2" fill="none"/><path d="M757.72,55.20 h19.8" stroke="#555555" stroke-width="2.9" fill="none"/><path d="M757.72,65.63 h19.8" stroke="#555555" stroke-width="2.9" fill="none"/><path d="M782.52,69.39 V81.91" stroke="#555555" stroke-width="5.2" fill="none"/><path d="M772.62,69.39 h19.8" stroke="#555555" stroke-width="2.9" fill="none"/><path d="M772.62,81.91 h19.8" stroke="#555555" stroke-width="2.9" fill="none"/><path d="M797.42,88.21 V98.61" stroke="#555555" stroke-width="5.2" fill="none"/><path d="M787.52,88.21 h19.8" stroke="#555555" stroke-width="2.9" fill="none"/><path d="M787.52,98.61 h19.8" stroke="#555555" stroke-width="2.9" fill="none"/><path d="M812.33,100.44 V110.78" stroke="#555555" stroke-width="5.2" fill="none"/><path d="M802.43,100.44 h19.8" stroke="#555555" stroke-width="2.9" fill="none"/><path d="M802.43,110.78 h19.8" stroke="#555555" stroke-width="2.9" fill="none"/><path d="M827.23,111.78 V122.02" stroke="#555555" stroke-width="5.2" fill="none"/><path d="M817.33,111.78 h19.8" stroke="#555555" stroke-width="2.9" fill="none"/><path d="M817.33,122.02 h19.8" stroke="#555555" stroke-width="2.9" fill="none"/><path d="M857.04,135.71 V144.98" stroke="#555555" stroke-width="5.2" fill="none"/><path d="M847.14,135.71 h19.8" stroke="#555555" stroke-width="2.9" fill="none"/><path d="M847.14,144.98 h19.8" stroke="#555555" stroke-width="2.9" fill="none"/><path d="M886.84,156.05 V170.31" stroke="#555555" stroke-width="5.2" fill="none"/><path d="M876.94,156.05 h19.8" stroke="#555555" stroke-width="2.9" fill="none"/><path d="M876.94,170.31 h19.8" stroke="#555555" stroke-width="2.9" fill="none"/><path d="M916.65,170.16 V197.75" stroke="#555555" stroke-width="5.2" fill="none"/><path d="M906.75,170.16 h19.8" stroke="#555555" stroke-width="2.9" fill="none"/><path d="M906.75,197.75 h19.8" stroke="#555555" stroke-width="2.9" fill="none"/><path d="M946.45,198.10 V217.95" stroke="#555555" stroke-width="5.2" fill="none"/><path d="M936.55,198.10 h19.8" stroke="#555555" stroke-width="2.9" fill="none"/><path d="M936.55,217.95 h19.8" stroke="#555555" stroke-width="2.9" fill="none"/><path d="M976.26,208.43 V239.98" stroke="#555555" stroke-width="5.2" fill="none"/><path d="M966.36,208.43 h19.8" stroke="#555555" stroke-width="2.9" fill="none"/><path d="M966.36,239.98 h19.8" stroke="#555555" stroke-width="2.9" fill="none"/><path d="M1006.07,223.10 V277.56" stroke="#555555" stroke-width="5.2" fill="none"/><path d="M996.17,223.10 h19.8" stroke="#555555" stroke-width="2.9" fill="none"/><path d="M996.17,277.56 h19.8" stroke="#555555" stroke-width="2.9" fill="none"/>
<circle cx="708.01" cy="9.75" r="5.0" fill="#0000ff"/><circle cx="737.81" cy="15.18" r="5.0" fill="#0000ff"/><circle cx="767.62" cy="19.94" r="5.0" fill="#0000ff"/><circle cx="797.42" cy="25.17" r="5.0" fill="#0000ff"/><circle cx="827.23" cy="44.70" r="5.0" fill="#0000ff"/><circle cx="842.13" cy="64.00" r="5.0" fill="#0000ff"/><circle cx="857.04" cy="84.40" r="5.0" fill="#0000ff"/><circle cx="871.94" cy="98.60" r="5.0" fill="#0000ff"/><circle cx="886.84" cy="108.60" r="5.0" fill="#0000ff"/><circle cx="901.75" cy="123.70" r="5.0" fill="#0000ff"/><circle cx="916.65" cy="133.40" r="5.0" fill="#0000ff"/><circle cx="931.55" cy="140.10" r="5.0" fill="#0000ff"/><circle cx="946.45" cy="149.20" r="5.0" fill="#0000ff"/><circle cx="961.36" cy="160.60" r="5.0" fill="#0000ff"/><circle cx="976.26" cy="171.40" r="5.0" fill="#0000ff"/><circle cx="1006.07" cy="181.00" r="5.0" fill="#0000ff"/><circle cx="1035.87" cy="204.90" r="5.0" fill="#0000ff"/><circle cx="1065.68" cy="222.80" r="5.0" fill="#0000ff"/><circle cx="1095.48" cy="227.80" r="5.0" fill="#0000ff"/><circle cx="1125.29" cy="242.30" r="5.0" fill="#0000ff"/>
<circle cx="700.55" cy="22.37" r="5.0" fill="#008000"/><circle cx="708.01" cy="36.40" r="5.0" fill="#008000"/><circle cx="722.91" cy="57.10" r="5.0" fill="#008000"/><circle cx="737.81" cy="74.30" r="5.0" fill="#008000"/><circle cx="752.72" cy="87.20" r="5.0" fill="#008000"/><circle cx="767.62" cy="103.10" r="5.0" fill="#008000"/><circle cx="782.52" cy="118.30" r="5.0" fill="#008000"/><circle cx="797.42" cy="131.50" r="5.0" fill="#008000"/><circle cx="812.33" cy="138.70" r="5.0" fill="#008000"/><circle cx="842.13" cy="162.60" r="5.0" fill="#008000"/><circle cx="871.94" cy="193.80" r="5.0" fill="#008000"/><circle cx="901.75" cy="213.20" r="5.0" fill="#008000"/><circle cx="931.55" cy="236.20" r="5.0" fill="#008000"/><circle cx="961.36" cy="252.00" r="5.0" fill="#008000"/>
<circle cx="752.72" cy="48.70" r="5.0" fill="#ff0000"/><circle cx="767.62" cy="60.10" r="5.0" fill="#ff0000"/><circle cx="782.52" cy="75.20" r="5.0" fill="#ff0000"/><circle cx="797.42" cy="93.10" r="5.0" fill="#ff0000"/><circle cx="812.33" cy="105.30" r="5.0" fill="#ff0000"/><circle cx="827.23" cy="116.60" r="5.0" fill="#ff0000"/><circle cx="857.04" cy="140.10" r="5.0" fill="#ff0000"/><circle cx="886.84" cy="162.60" r="5.0" fill="#ff0000"/><circle cx="916.65" cy="181.80" r="5.0" fill="#ff0000"/><circle cx="946.45" cy="206.90" r="5.0" fill="#ff0000"/><circle cx="976.26" cy="221.40" r="5.0" fill="#ff0000"/><circle cx="1006.07" cy="242.30" r="5.0" fill="#ff0000"/>
</g>
<rect x="663.6" y="31.6" width="476.50" height="235.10" fill="none" stroke="#000" stroke-width="2.6"/>
<path d="M678.20,266.7 v11.4" stroke="#000" stroke-width="2.8"/>
<text x="678.20" y="317.6" text-anchor="middle" font-family="'Liberation Serif','DejaVu Serif',serif" font-size="41.2" fill="#000" stroke="#fff" stroke-width="0.5" stroke-linejoin="round">1</text>
<path d="M827.23,266.7 v11.4" stroke="#000" stroke-width="2.8"/>
<text x="827.23" y="317.6" text-anchor="middle" font-family="'Liberation Serif','DejaVu Serif',serif" font-size="41.2" fill="#000" stroke="#fff" stroke-width="0.5" stroke-linejoin="round">2</text>
<path d="M976.26,266.7 v11.4" stroke="#000" stroke-width="2.8"/>
<text x="976.26" y="317.6" text-anchor="middle" font-family="'Liberation Serif','DejaVu Serif',serif" font-size="41.2" fill="#000" stroke="#fff" stroke-width="0.5" stroke-linejoin="round">3</text>
<path d="M1125.29,266.7 v11.4" stroke="#000" stroke-width="2.8"/>
<text x="1125.29" y="317.6" text-anchor="middle" font-family="'Liberation Serif','DejaVu Serif',serif" font-size="41.2" fill="#000" stroke="#fff" stroke-width="0.5" stroke-linejoin="round">4</text>
<path d="M663.6,57.30 h-12.0" stroke="#000" stroke-width="2.8"/>
<text font-family="'Liberation Serif','DejaVu Serif',serif" fill="#000" stroke="#fff" stroke-width="0.5" stroke-linejoin="round"><tspan x="564.3" y="71.50" font-size="41.2" letter-spacing="-0.4">10</tspan><tspan x="604.2" y="62.20" font-size="37" stroke-width="0.8">−</tspan><tspan x="625.7" y="57.10" font-size="28" stroke-width="0.35">1</tspan></text>
<path d="M663.6,157.30 h-12.0" stroke="#000" stroke-width="2.8"/>
<text font-family="'Liberation Serif','DejaVu Serif',serif" fill="#000" stroke="#fff" stroke-width="0.5" stroke-linejoin="round"><tspan x="564.3" y="171.50" font-size="41.2" letter-spacing="-0.4">10</tspan><tspan x="604.2" y="162.20" font-size="37" stroke-width="0.8">−</tspan><tspan x="625.7" y="157.10" font-size="28" stroke-width="0.35">2</tspan></text>
<path d="M663.6,257.30 h-12.0" stroke="#000" stroke-width="2.8"/>
<text font-family="'Liberation Serif','DejaVu Serif',serif" fill="#000" stroke="#fff" stroke-width="0.5" stroke-linejoin="round"><tspan x="564.3" y="271.50" font-size="41.2" letter-spacing="-0.4">10</tspan><tspan x="604.2" y="262.20" font-size="37" stroke-width="0.8">−</tspan><tspan x="625.7" y="257.10" font-size="28" stroke-width="0.35">3</tspan></text>
<path d="M663.6,127.20 h-7.2" stroke="#000" stroke-width="2.1"/>
<path d="M663.6,109.59 h-7.2" stroke="#000" stroke-width="2.1"/>
<path d="M663.6,97.09 h-7.2" stroke="#000" stroke-width="2.1"/>
<path d="M663.6,87.40 h-7.2" stroke="#000" stroke-width="2.1"/>
<path d="M663.6,79.48 h-7.2" stroke="#000" stroke-width="2.1"/>
<path d="M663.6,72.79 h-7.2" stroke="#000" stroke-width="2.1"/>
<path d="M663.6,66.99 h-7.2" stroke="#000" stroke-width="2.1"/>
<path d="M663.6,61.88 h-7.2" stroke="#000" stroke-width="2.1"/>
<path d="M663.6,227.20 h-7.2" stroke="#000" stroke-width="2.1"/>
<path d="M663.6,209.59 h-7.2" stroke="#000" stroke-width="2.1"/>
<path d="M663.6,197.09 h-7.2" stroke="#000" stroke-width="2.1"/>
<path d="M663.6,187.40 h-7.2" stroke="#000" stroke-width="2.1"/>
<path d="M663.6,179.48 h-7.2" stroke="#000" stroke-width="2.1"/>
<path d="M663.6,172.79 h-7.2" stroke="#000" stroke-width="2.1"/>
<path d="M663.6,166.99 h-7.2" stroke="#000" stroke-width="2.1"/>
<path d="M663.6,161.88 h-7.2" stroke="#000" stroke-width="2.1"/>
<path d="M663.6,266.99 h-7.2" stroke="#000" stroke-width="2.1"/>
<path d="M663.6,261.88 h-7.2" stroke="#000" stroke-width="2.1"/>
</svg>
</body>
</html>
